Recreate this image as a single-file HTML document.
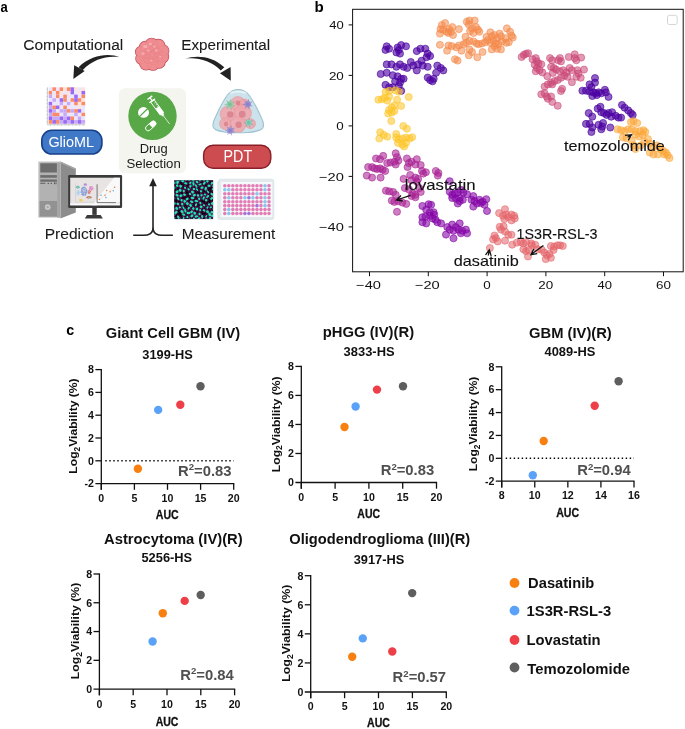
<!DOCTYPE html>
<html><head><meta charset="utf-8"><style>
html,body{margin:0;padding:0;background:#fff;}
svg{display:block;font-family:"Liberation Sans",sans-serif;will-change:transform;}
</style></head><body>
<svg width="685" height="729" viewBox="0 0 685 729">
<rect width="685" height="729" fill="#fff"/>
<text x="0.54" y="11.70" font-size="14.5" font-weight="bold" fill="#000" textLength="7.28" lengthAdjust="spacingAndGlyphs">a</text>
<text x="23.24" y="49.80" font-size="15.3" font-weight="normal" fill="#1a1a1a" textLength="100.09" lengthAdjust="spacingAndGlyphs" stroke="#1a1a1a" stroke-width="0.08">Computational</text>
<text x="181.36" y="49.80" font-size="15.3" font-weight="normal" fill="#1a1a1a" textLength="88.83" lengthAdjust="spacingAndGlyphs" stroke="#1a1a1a" stroke-width="0.08">Experimental</text>
<circle cx="152.30" cy="54.60" r="12.40" fill="#bb4a5a" stroke="#bb4a5a" stroke-width="1.3"/>
<circle cx="162.86" cy="57.05" r="5.63" fill="#bb4a5a" stroke="#bb4a5a" stroke-width="1.3"/>
<circle cx="159.37" cy="62.35" r="5.68" fill="#bb4a5a" stroke="#bb4a5a" stroke-width="1.3"/>
<circle cx="152.99" cy="64.32" r="5.90" fill="#bb4a5a" stroke="#bb4a5a" stroke-width="1.3"/>
<circle cx="146.07" cy="63.55" r="6.26" fill="#bb4a5a" stroke="#bb4a5a" stroke-width="1.3"/>
<circle cx="141.63" cy="58.46" r="5.74" fill="#bb4a5a" stroke="#bb4a5a" stroke-width="1.3"/>
<circle cx="141.42" cy="52.07" r="5.79" fill="#bb4a5a" stroke="#bb4a5a" stroke-width="1.3"/>
<circle cx="145.38" cy="47.02" r="5.64" fill="#bb4a5a" stroke="#bb4a5a" stroke-width="1.3"/>
<circle cx="151.60" cy="44.73" r="6.38" fill="#bb4a5a" stroke="#bb4a5a" stroke-width="1.3"/>
<circle cx="158.48" cy="45.72" r="6.27" fill="#bb4a5a" stroke="#bb4a5a" stroke-width="1.3"/>
<circle cx="163.01" cy="50.73" r="5.72" fill="#bb4a5a" stroke="#bb4a5a" stroke-width="1.3"/>
<circle cx="152.30" cy="54.60" r="12.40" fill="#ef8d90"/>
<circle cx="162.86" cy="57.05" r="5.63" fill="#ef8d90"/>
<circle cx="159.37" cy="62.35" r="5.68" fill="#ef8d90"/>
<circle cx="152.99" cy="64.32" r="5.90" fill="#ef8d90"/>
<circle cx="146.07" cy="63.55" r="6.26" fill="#ef8d90"/>
<circle cx="141.63" cy="58.46" r="5.74" fill="#ef8d90"/>
<circle cx="141.42" cy="52.07" r="5.79" fill="#ef8d90"/>
<circle cx="145.38" cy="47.02" r="5.64" fill="#ef8d90"/>
<circle cx="151.60" cy="44.73" r="6.38" fill="#ef8d90"/>
<circle cx="158.48" cy="45.72" r="6.27" fill="#ef8d90"/>
<circle cx="163.01" cy="50.73" r="5.72" fill="#ef8d90"/>
<circle cx="157.60" cy="57.50" r="4.39" fill="none" stroke="#e57c84" stroke-width="0.5" opacity="0.55"/>
<circle cx="153.34" cy="60.55" r="4.39" fill="none" stroke="#e57c84" stroke-width="0.5" opacity="0.55"/>
<circle cx="148.30" cy="59.12" r="4.39" fill="none" stroke="#e57c84" stroke-width="0.5" opacity="0.55"/>
<circle cx="146.27" cy="54.29" r="4.39" fill="none" stroke="#e57c84" stroke-width="0.5" opacity="0.55"/>
<circle cx="148.78" cy="49.69" r="4.39" fill="none" stroke="#e57c84" stroke-width="0.5" opacity="0.55"/>
<circle cx="153.94" cy="48.79" r="4.39" fill="none" stroke="#e57c84" stroke-width="0.5" opacity="0.55"/>
<circle cx="157.87" cy="52.26" r="4.39" fill="none" stroke="#e57c84" stroke-width="0.5" opacity="0.55"/>
<circle cx="152.30" cy="54.60" r="4.10" fill="none" stroke="#e57c84" stroke-width="0.5" opacity="0.55"/>
<circle cx="162.86" cy="57.05" r="5.18" fill="none" stroke="#e57c84" stroke-width="0.5" opacity="0.55"/>
<circle cx="159.37" cy="62.35" r="5.23" fill="none" stroke="#e57c84" stroke-width="0.5" opacity="0.55"/>
<circle cx="152.99" cy="64.32" r="5.43" fill="none" stroke="#e57c84" stroke-width="0.5" opacity="0.55"/>
<circle cx="146.07" cy="63.55" r="5.76" fill="none" stroke="#e57c84" stroke-width="0.5" opacity="0.55"/>
<circle cx="141.63" cy="58.46" r="5.28" fill="none" stroke="#e57c84" stroke-width="0.5" opacity="0.55"/>
<circle cx="141.42" cy="52.07" r="5.33" fill="none" stroke="#e57c84" stroke-width="0.5" opacity="0.55"/>
<circle cx="145.38" cy="47.02" r="5.19" fill="none" stroke="#e57c84" stroke-width="0.5" opacity="0.55"/>
<circle cx="151.60" cy="44.73" r="5.87" fill="none" stroke="#e57c84" stroke-width="0.5" opacity="0.55"/>
<circle cx="158.48" cy="45.72" r="5.77" fill="none" stroke="#e57c84" stroke-width="0.5" opacity="0.55"/>
<circle cx="163.01" cy="50.73" r="5.26" fill="none" stroke="#e57c84" stroke-width="0.5" opacity="0.55"/>
<ellipse cx="145.3" cy="46.6" rx="2.4" ry="1.7" fill="#f6b2b4" opacity="0.8"/>
<ellipse cx="150.3" cy="44.1" rx="1.8" ry="1.3" fill="#f6b2b4" opacity="0.8"/>
<ellipse cx="142.8" cy="53.6" rx="1.8" ry="1.3" fill="#f6b2b4" opacity="0.8"/>
<ellipse cx="156.3" cy="50.6" rx="1.6" ry="1.1" fill="#f6b2b4" opacity="0.8"/>
<ellipse cx="148.3" cy="50.6" rx="1.6" ry="1.1" fill="#f6b2b4" opacity="0.8"/>
<ellipse cx="160.3" cy="56.6" rx="1.3" ry="0.9" fill="#f6b2b4" opacity="0.8"/>
<ellipse cx="151.3" cy="60.6" rx="1.3" ry="0.9" fill="#f6b2b4" opacity="0.8"/>
<ellipse cx="154.3" cy="46.6" rx="1.4" ry="1.0" fill="#f6b2b4" opacity="0.8"/>
<path d="M119.5,57.3 C110,53.2 92,54 78.6,67.2 L82.6,70.2 C93.5,58.7 108,55.6 119.5,57.3 Z" fill="#222"/>
<path d="M74.2,65.3 L84.7,71 L73.3,78.9 Z" fill="#222"/>
<path d="M185,58.8 C195,55 212,55.3 224.3,67.3 L220.8,70.6 C211,60.5 197,57 185,58.8 Z" fill="#222"/>
<path d="M219.9,73.2 L230.6,67.1 L230.8,80.8 Z" fill="#222"/>
<rect x="48.70" y="87.30" width="3.69" height="3.69" fill="#ebe6fd"/>
<rect x="52.34" y="87.30" width="3.69" height="3.69" fill="#fb8a66"/>
<rect x="55.98" y="87.30" width="3.69" height="3.69" fill="#ebe6fd"/>
<rect x="59.62" y="87.30" width="3.69" height="3.69" fill="#fb8a66"/>
<rect x="63.26" y="87.30" width="3.69" height="3.69" fill="#fde3d9"/>
<rect x="66.90" y="87.30" width="3.69" height="3.69" fill="#fb8a66"/>
<rect x="70.54" y="87.30" width="3.69" height="3.69" fill="#9a6af4"/>
<rect x="74.18" y="87.30" width="3.69" height="3.69" fill="#fde3d9"/>
<rect x="77.82" y="87.30" width="3.69" height="3.69" fill="#ebe6fd"/>
<rect x="81.46" y="87.30" width="3.69" height="3.69" fill="#fde3d9"/>
<rect x="48.70" y="90.94" width="3.69" height="3.69" fill="#fb8a66"/>
<rect x="52.34" y="90.94" width="3.69" height="3.69" fill="#ebe6fd"/>
<rect x="55.98" y="90.94" width="3.69" height="3.69" fill="#fb8a66"/>
<rect x="59.62" y="90.94" width="3.69" height="3.69" fill="#fde3d9"/>
<rect x="63.26" y="90.94" width="3.69" height="3.69" fill="#ebe6fd"/>
<rect x="66.90" y="90.94" width="3.69" height="3.69" fill="#fde3d9"/>
<rect x="70.54" y="90.94" width="3.69" height="3.69" fill="#9a6af4"/>
<rect x="74.18" y="90.94" width="3.69" height="3.69" fill="#ebe6fd"/>
<rect x="77.82" y="90.94" width="3.69" height="3.69" fill="#fde3d9"/>
<rect x="81.46" y="90.94" width="3.69" height="3.69" fill="#9a6af4"/>
<rect x="48.70" y="94.58" width="3.69" height="3.69" fill="#c7aaf5"/>
<rect x="52.34" y="94.58" width="3.69" height="3.69" fill="#ebe6fd"/>
<rect x="55.98" y="94.58" width="3.69" height="3.69" fill="#fb8a66"/>
<rect x="59.62" y="94.58" width="3.69" height="3.69" fill="#ebe6fd"/>
<rect x="63.26" y="94.58" width="3.69" height="3.69" fill="#fb8a66"/>
<rect x="66.90" y="94.58" width="3.69" height="3.69" fill="#ebe6fd"/>
<rect x="70.54" y="94.58" width="3.69" height="3.69" fill="#ebe6fd"/>
<rect x="74.18" y="94.58" width="3.69" height="3.69" fill="#9a6af4"/>
<rect x="77.82" y="94.58" width="3.69" height="3.69" fill="#ebe6fd"/>
<rect x="81.46" y="94.58" width="3.69" height="3.69" fill="#fb8a66"/>
<rect x="48.70" y="98.22" width="3.69" height="3.69" fill="#ebe6fd"/>
<rect x="52.34" y="98.22" width="3.69" height="3.69" fill="#c7aaf5"/>
<rect x="55.98" y="98.22" width="3.69" height="3.69" fill="#ebe6fd"/>
<rect x="59.62" y="98.22" width="3.69" height="3.69" fill="#9a6af4"/>
<rect x="63.26" y="98.22" width="3.69" height="3.69" fill="#fb8a66"/>
<rect x="66.90" y="98.22" width="3.69" height="3.69" fill="#ebe6fd"/>
<rect x="70.54" y="98.22" width="3.69" height="3.69" fill="#fb8a66"/>
<rect x="74.18" y="98.22" width="3.69" height="3.69" fill="#9a6af4"/>
<rect x="77.82" y="98.22" width="3.69" height="3.69" fill="#fb8a66"/>
<rect x="81.46" y="98.22" width="3.69" height="3.69" fill="#fde3d9"/>
<rect x="48.70" y="101.86" width="3.69" height="3.69" fill="#9a6af4"/>
<rect x="52.34" y="101.86" width="3.69" height="3.69" fill="#ebe6fd"/>
<rect x="55.98" y="101.86" width="3.69" height="3.69" fill="#ebe6fd"/>
<rect x="59.62" y="101.86" width="3.69" height="3.69" fill="#c7aaf5"/>
<rect x="63.26" y="101.86" width="3.69" height="3.69" fill="#ebe6fd"/>
<rect x="66.90" y="101.86" width="3.69" height="3.69" fill="#c7aaf5"/>
<rect x="70.54" y="101.86" width="3.69" height="3.69" fill="#ebe6fd"/>
<rect x="74.18" y="101.86" width="3.69" height="3.69" fill="#fb8a66"/>
<rect x="77.82" y="101.86" width="3.69" height="3.69" fill="#fde3d9"/>
<rect x="81.46" y="101.86" width="3.69" height="3.69" fill="#fb8a66"/>
<rect x="48.70" y="105.50" width="3.69" height="3.69" fill="#c7aaf5"/>
<rect x="52.34" y="105.50" width="3.69" height="3.69" fill="#fb8a66"/>
<rect x="55.98" y="105.50" width="3.69" height="3.69" fill="#9a6af4"/>
<rect x="59.62" y="105.50" width="3.69" height="3.69" fill="#ebe6fd"/>
<rect x="63.26" y="105.50" width="3.69" height="3.69" fill="#fb8a66"/>
<rect x="66.90" y="105.50" width="3.69" height="3.69" fill="#ebe6fd"/>
<rect x="70.54" y="105.50" width="3.69" height="3.69" fill="#ebe6fd"/>
<rect x="74.18" y="105.50" width="3.69" height="3.69" fill="#ebe6fd"/>
<rect x="77.82" y="105.50" width="3.69" height="3.69" fill="#fde3d9"/>
<rect x="81.46" y="105.50" width="3.69" height="3.69" fill="#ebe6fd"/>
<rect x="48.70" y="109.14" width="3.69" height="3.69" fill="#9a6af4"/>
<rect x="52.34" y="109.14" width="3.69" height="3.69" fill="#c7aaf5"/>
<rect x="55.98" y="109.14" width="3.69" height="3.69" fill="#ebe6fd"/>
<rect x="59.62" y="109.14" width="3.69" height="3.69" fill="#c7aaf5"/>
<rect x="63.26" y="109.14" width="3.69" height="3.69" fill="#c7aaf5"/>
<rect x="66.90" y="109.14" width="3.69" height="3.69" fill="#fb8a66"/>
<rect x="70.54" y="109.14" width="3.69" height="3.69" fill="#c7aaf5"/>
<rect x="74.18" y="109.14" width="3.69" height="3.69" fill="#fb8a66"/>
<rect x="77.82" y="109.14" width="3.69" height="3.69" fill="#9a6af4"/>
<rect x="81.46" y="109.14" width="3.69" height="3.69" fill="#ebe6fd"/>
<rect x="48.70" y="112.78" width="3.69" height="3.69" fill="#c7aaf5"/>
<rect x="52.34" y="112.78" width="3.69" height="3.69" fill="#fb8a66"/>
<rect x="55.98" y="112.78" width="3.69" height="3.69" fill="#fb8a66"/>
<rect x="59.62" y="112.78" width="3.69" height="3.69" fill="#ebe6fd"/>
<rect x="63.26" y="112.78" width="3.69" height="3.69" fill="#c7aaf5"/>
<rect x="66.90" y="112.78" width="3.69" height="3.69" fill="#ebe6fd"/>
<rect x="70.54" y="112.78" width="3.69" height="3.69" fill="#ebe6fd"/>
<rect x="74.18" y="112.78" width="3.69" height="3.69" fill="#c7aaf5"/>
<rect x="77.82" y="112.78" width="3.69" height="3.69" fill="#ebe6fd"/>
<rect x="81.46" y="112.78" width="3.69" height="3.69" fill="#fb8a66"/>
<rect x="48.70" y="116.42" width="3.69" height="3.69" fill="#9a6af4"/>
<rect x="52.34" y="116.42" width="3.69" height="3.69" fill="#c7aaf5"/>
<rect x="55.98" y="116.42" width="3.69" height="3.69" fill="#c7aaf5"/>
<rect x="59.62" y="116.42" width="3.69" height="3.69" fill="#9a6af4"/>
<rect x="63.26" y="116.42" width="3.69" height="3.69" fill="#c7aaf5"/>
<rect x="66.90" y="116.42" width="3.69" height="3.69" fill="#9a6af4"/>
<rect x="70.54" y="116.42" width="3.69" height="3.69" fill="#fb8a66"/>
<rect x="74.18" y="116.42" width="3.69" height="3.69" fill="#ebe6fd"/>
<rect x="77.82" y="116.42" width="3.69" height="3.69" fill="#c7aaf5"/>
<rect x="81.46" y="116.42" width="3.69" height="3.69" fill="#ebe6fd"/>
<rect x="48.70" y="120.06" width="3.69" height="3.69" fill="#fb8a66"/>
<rect x="52.34" y="120.06" width="3.69" height="3.69" fill="#9a6af4"/>
<rect x="55.98" y="120.06" width="3.69" height="3.69" fill="#fb8a66"/>
<rect x="59.62" y="120.06" width="3.69" height="3.69" fill="#c7aaf5"/>
<rect x="63.26" y="120.06" width="3.69" height="3.69" fill="#9a6af4"/>
<rect x="66.90" y="120.06" width="3.69" height="3.69" fill="#c7aaf5"/>
<rect x="70.54" y="120.06" width="3.69" height="3.69" fill="#9a6af4"/>
<rect x="74.18" y="120.06" width="3.69" height="3.69" fill="#c7aaf5"/>
<rect x="77.82" y="120.06" width="3.69" height="3.69" fill="#9a6af4"/>
<rect x="81.46" y="120.06" width="3.69" height="3.69" fill="#c7aaf5"/>
<line x1="47.4" y1="87.3" x2="47.4" y2="124.69999999999999" stroke="#aaa" stroke-width="0.6"/>
<line x1="47.4" y1="124.69999999999999" x2="85.1" y2="124.69999999999999" stroke="#aaa" stroke-width="0.6"/>
<line x1="46.4" y1="89.12" x2="47.4" y2="89.12" stroke="#999" stroke-width="0.5"/>
<line x1="50.52" y1="124.69999999999999" x2="50.52" y2="125.69999999999999" stroke="#999" stroke-width="0.5"/>
<line x1="46.4" y1="92.76" x2="47.4" y2="92.76" stroke="#999" stroke-width="0.5"/>
<line x1="54.16" y1="124.69999999999999" x2="54.16" y2="125.69999999999999" stroke="#999" stroke-width="0.5"/>
<line x1="46.4" y1="96.40" x2="47.4" y2="96.40" stroke="#999" stroke-width="0.5"/>
<line x1="57.80" y1="124.69999999999999" x2="57.80" y2="125.69999999999999" stroke="#999" stroke-width="0.5"/>
<line x1="46.4" y1="100.04" x2="47.4" y2="100.04" stroke="#999" stroke-width="0.5"/>
<line x1="61.44" y1="124.69999999999999" x2="61.44" y2="125.69999999999999" stroke="#999" stroke-width="0.5"/>
<line x1="46.4" y1="103.68" x2="47.4" y2="103.68" stroke="#999" stroke-width="0.5"/>
<line x1="65.08" y1="124.69999999999999" x2="65.08" y2="125.69999999999999" stroke="#999" stroke-width="0.5"/>
<line x1="46.4" y1="107.32" x2="47.4" y2="107.32" stroke="#999" stroke-width="0.5"/>
<line x1="68.72" y1="124.69999999999999" x2="68.72" y2="125.69999999999999" stroke="#999" stroke-width="0.5"/>
<line x1="46.4" y1="110.96" x2="47.4" y2="110.96" stroke="#999" stroke-width="0.5"/>
<line x1="72.36" y1="124.69999999999999" x2="72.36" y2="125.69999999999999" stroke="#999" stroke-width="0.5"/>
<line x1="46.4" y1="114.60" x2="47.4" y2="114.60" stroke="#999" stroke-width="0.5"/>
<line x1="76.00" y1="124.69999999999999" x2="76.00" y2="125.69999999999999" stroke="#999" stroke-width="0.5"/>
<line x1="46.4" y1="118.24" x2="47.4" y2="118.24" stroke="#999" stroke-width="0.5"/>
<line x1="79.64" y1="124.69999999999999" x2="79.64" y2="125.69999999999999" stroke="#999" stroke-width="0.5"/>
<line x1="46.4" y1="121.88" x2="47.4" y2="121.88" stroke="#999" stroke-width="0.5"/>
<line x1="83.28" y1="124.69999999999999" x2="83.28" y2="125.69999999999999" stroke="#999" stroke-width="0.5"/>
<rect x="41.8" y="130.3" width="60.1" height="23.7" rx="10" fill="#3e78c6" stroke="#173f88" stroke-width="1.6"/>
<text x="48.40" y="146.70" font-size="15.5" font-weight="normal" fill="#fff" textLength="45.66" lengthAdjust="spacingAndGlyphs">GlioML</text>
<rect x="118.9" y="88.2" width="67.2" height="85.1" rx="6.5" fill="#f3f5ee"/>
<circle cx="152.5" cy="115.9" r="24.2" fill="#58a847"/>
<ellipse cx="143.5" cy="112.4" rx="5.5" ry="5.3" fill="#fff"/>
<line x1="139.2" y1="116.9" x2="148" y2="108.2" stroke="#58a847" stroke-width="1.3"/>
<g transform="translate(150.75,125.9) rotate(-41.4)"><rect x="-6.1" y="-2.6" width="12.2" height="5.2" rx="2.6" fill="#58a847" stroke="#fff" stroke-width="0.9"/><path d="M0,-2.6 L3.5,-2.6 A2.6,2.6 0 0 1 3.5,2.6 L0,2.6 Z" fill="#fff"/></g>
<g transform="translate(149.4,97.0) rotate(53.2)" stroke="#fff" fill="none" stroke-linecap="butt"><line x1="0.8" y1="-3" x2="0.8" y2="3" stroke-width="1.4"/><line x1="0.8" y1="0" x2="4.6" y2="0" stroke-width="1.2"/><line x1="4.6" y1="-3.4" x2="4.6" y2="3.4" stroke-width="1.3"/><rect x="5.2" y="-2.1" width="15.6" height="4.2" stroke-width="0.85"/><path d="M13.2,-2.1 L20.8,-2.1 L20.8,2.1 L13.2,2.1 Z" fill="#fff" stroke-width="0.2"/><line x1="7.8" y1="-2.1" x2="7.8" y2="-0.3" stroke-width="0.55"/><line x1="10.2" y1="-2.1" x2="10.2" y2="-0.3" stroke-width="0.55"/><line x1="12.4" y1="-2.1" x2="12.4" y2="-0.3" stroke-width="0.55"/><path d="M20.8,-1.5 L23.4,-0.7 L23.4,0.7 L20.8,1.5 Z" fill="#fff" stroke-width="0.4"/><line x1="23.4" y1="0" x2="33.8" y2="0" stroke-width="0.65"/></g>
<text x="139.66" y="153.10" font-size="12.4" font-weight="normal" fill="#1a1a1a" textLength="28.05" lengthAdjust="spacingAndGlyphs">Drug</text>
<text x="126.52" y="168.00" font-size="12.6" font-weight="normal" fill="#1a1a1a" textLength="54.20" lengthAdjust="spacingAndGlyphs">Selection</text>
<path d="M238.2,89.5 C243.5,89.5 246.5,92 249,95 C252,99 255,104.5 257.5,109.5 L261.5,118 C263.5,122 264,125 263,127.5 C261.5,130.5 252,132.8 238.2,132.8 C224.5,132.8 215,130.5 213.4,127.5 C212.4,125 213,122 215,118 L219,109.5 C221.5,104.5 224.5,99 227.4,95 C230,92 233,89.5 238.2,89.5 Z" fill="#cde3eb" stroke="#9cc2d0" stroke-width="1.1"/>
<clipPath id="dc"><path d="M238.2,89.5 C243.5,89.5 246.5,92 249,95 C252,99 255,104.5 257.5,109.5 L261.5,118 C263.5,122 264,125 263,127.5 C261.5,130.5 252,132.8 238.2,132.8 C224.5,132.8 215,130.5 213.4,127.5 C212.4,125 213,122 215,118 L219,109.5 C221.5,104.5 224.5,99 227.4,95 C230,92 233,89.5 238.2,89.5 Z"/></clipPath><g clip-path="url(#dc)">
<circle cx="237.8" cy="103.5" r="7" fill="#eea4aa" stroke="#e3929a" stroke-width="0.5" fill-opacity="0.85"/>
<circle cx="244.5" cy="104.5" r="5.5" fill="#eea4aa" stroke="#e3929a" stroke-width="0.5" fill-opacity="0.85"/>
<circle cx="228.1" cy="114" r="8" fill="#eea4aa" stroke="#e3929a" stroke-width="0.5" fill-opacity="0.85"/>
<circle cx="243" cy="113.1" r="8.5" fill="#eea4aa" stroke="#e3929a" stroke-width="0.5" fill-opacity="0.85"/>
<circle cx="225.5" cy="123.7" r="6" fill="#eea4aa" stroke="#e3929a" stroke-width="0.5" fill-opacity="0.85"/>
<circle cx="250.5" cy="123.7" r="5" fill="#eea4aa" stroke="#e3929a" stroke-width="0.5" fill-opacity="0.85"/>
<circle cx="237.8" cy="124.5" r="8" fill="#eea4aa" stroke="#e3929a" stroke-width="0.5" fill-opacity="0.85"/>
<circle cx="230.3" cy="114.5" r="3.3" fill="#d9828c" opacity="0.9"/>
<circle cx="242.2" cy="114.2" r="3.4" fill="#d9828c" opacity="0.9"/>
<circle cx="238.6" cy="124.8" r="3.2" fill="#d9828c" opacity="0.9"/>
<circle cx="238" cy="103" r="2.4" fill="#d9828c" opacity="0.9"/>
<circle cx="226" cy="124" r="2.2" fill="#d9828c" opacity="0.9"/>
</g>
<path d="M231,93 C235,91.3 241.5,91.3 245.5,93" fill="none" stroke="#eaf4f8" stroke-width="1.5" stroke-linecap="round"/>
<line x1="229.9" y1="104.4" x2="234.7" y2="106.4" stroke="#5fa080" stroke-width="0.55"/><line x1="229.9" y1="104.4" x2="231.3" y2="109.4" stroke="#5fa080" stroke-width="0.55"/><line x1="229.9" y1="104.4" x2="226.9" y2="108.6" stroke="#5fa080" stroke-width="0.55"/><line x1="229.9" y1="104.4" x2="224.7" y2="104.7" stroke="#5fa080" stroke-width="0.55"/><line x1="229.9" y1="104.4" x2="226.5" y2="100.5" stroke="#5fa080" stroke-width="0.55"/><line x1="229.9" y1="104.4" x2="230.8" y2="99.3" stroke="#5fa080" stroke-width="0.55"/><line x1="229.9" y1="104.4" x2="234.5" y2="101.9" stroke="#5fa080" stroke-width="0.55"/><circle cx="229.9" cy="104.4" r="3.4" fill="#8fd0a8"/><circle cx="229.9" cy="104.4" r="1.9" fill="#5fa080" opacity="0.35"/>
<line x1="247.8" y1="104.2" x2="252.4" y2="106.1" stroke="#7468b4" stroke-width="0.55"/><line x1="247.8" y1="104.2" x2="249.1" y2="109.0" stroke="#7468b4" stroke-width="0.55"/><line x1="247.8" y1="104.2" x2="244.9" y2="108.3" stroke="#7468b4" stroke-width="0.55"/><line x1="247.8" y1="104.2" x2="242.8" y2="104.4" stroke="#7468b4" stroke-width="0.55"/><line x1="247.8" y1="104.2" x2="244.5" y2="100.4" stroke="#7468b4" stroke-width="0.55"/><line x1="247.8" y1="104.2" x2="248.7" y2="99.3" stroke="#7468b4" stroke-width="0.55"/><line x1="247.8" y1="104.2" x2="252.2" y2="101.8" stroke="#7468b4" stroke-width="0.55"/><circle cx="247.8" cy="104.2" r="3.2" fill="#9a90d2"/><circle cx="247.8" cy="104.2" r="1.8" fill="#7468b4" opacity="0.35"/>
<line x1="248.7" y1="122.8" x2="253.1" y2="124.7" stroke="#56a090" stroke-width="0.55"/><line x1="248.7" y1="122.8" x2="250.0" y2="127.4" stroke="#56a090" stroke-width="0.55"/><line x1="248.7" y1="122.8" x2="245.9" y2="126.7" stroke="#56a090" stroke-width="0.55"/><line x1="248.7" y1="122.8" x2="243.9" y2="123.0" stroke="#56a090" stroke-width="0.55"/><line x1="248.7" y1="122.8" x2="245.5" y2="119.2" stroke="#56a090" stroke-width="0.55"/><line x1="248.7" y1="122.8" x2="249.5" y2="118.1" stroke="#56a090" stroke-width="0.55"/><line x1="248.7" y1="122.8" x2="252.9" y2="120.5" stroke="#56a090" stroke-width="0.55"/><circle cx="248.7" cy="122.8" r="3.0" fill="#84d0bc"/><circle cx="248.7" cy="122.8" r="1.7" fill="#56a090" opacity="0.35"/>
<line x1="230.3" y1="130.5" x2="234.9" y2="132.4" stroke="#7468b4" stroke-width="0.55"/><line x1="230.3" y1="130.5" x2="231.6" y2="135.3" stroke="#7468b4" stroke-width="0.55"/><line x1="230.3" y1="130.5" x2="227.4" y2="134.6" stroke="#7468b4" stroke-width="0.55"/><line x1="230.3" y1="130.5" x2="225.3" y2="130.7" stroke="#7468b4" stroke-width="0.55"/><line x1="230.3" y1="130.5" x2="227.0" y2="126.7" stroke="#7468b4" stroke-width="0.55"/><line x1="230.3" y1="130.5" x2="231.2" y2="125.6" stroke="#7468b4" stroke-width="0.55"/><line x1="230.3" y1="130.5" x2="234.7" y2="128.1" stroke="#7468b4" stroke-width="0.55"/><circle cx="230.3" cy="130.5" r="3.2" fill="#9a90d2"/><circle cx="230.3" cy="130.5" r="1.8" fill="#7468b4" opacity="0.35"/>
<rect x="203.6" y="145.3" width="67.2" height="22.9" rx="9.5" fill="#cc4c50" stroke="#8a1f28" stroke-width="1.4"/>
<text x="223.56" y="161.70" font-size="15.6" font-weight="normal" fill="#fff" textLength="28.56" lengthAdjust="spacingAndGlyphs">PDT</text>
<path d="M60.4,161.5 L75.8,168.5 L75.8,212.4 L60.4,218.5 Z" fill="#8c8c8c"/>
<path d="M60.4,161.5 L75.8,168.5 L75.8,170 L60.4,163 Z" fill="#a8a8a8"/>
<rect x="38.3" y="161.5" width="22.1" height="56.1" fill="#c4c4c4"/>
<rect x="39.6" y="162.5" width="17.6" height="54" fill="#b2b2b2"/>
<rect x="40.3" y="163.3" width="16.6" height="9.2" fill="#6c6c6c"/>
<rect x="40.3" y="175.1" width="16.6" height="2.6" fill="#6c6c6c"/>
<rect x="40.3" y="179.5" width="16.6" height="2.2" fill="#6c6c6c"/>
<rect x="40.3" y="182.8" width="5" height="0.9" fill="#555"/>
<circle cx="48.2" cy="183.3" r="0.6" fill="#333"/><circle cx="51.2" cy="183.3" r="0.6" fill="#333"/><rect x="54" y="182.4" width="0.8" height="1.8" fill="#444"/><rect x="55.6" y="182.4" width="0.8" height="1.8" fill="#444"/>
<rect x="39.6" y="201" width="17.6" height="15.6" fill="#929292"/>
<rect x="57.2" y="162.5" width="3.2" height="55" fill="#a4a4a4"/>
<circle cx="47.7" cy="207.1" r="2.9" fill="#c8c8c8"/><circle cx="47.7" cy="207.1" r="1.2" fill="#a8a8a8"/>
<rect x="68.2" y="175.1" width="53.9" height="32.8" rx="1.2" fill="#3a3a3a"/>
<rect x="70.2" y="177.7" width="49.7" height="27.6" fill="#e8e4e4"/>
<path d="M114,177.7 L119.9,177.7 L119.9,202 L96,205.3 L92,205.3 Z" fill="#f9f9f9"/>
<rect x="70.2" y="203.4" width="49.7" height="1.9" fill="#f9f9f9"/>
<rect x="92.3" y="207.9" width="4.4" height="7" fill="#3a3a3a"/>
<path d="M87,214.9 L100.6,214.9 L102.8,218.4 L84.8,218.4 Z" fill="#3a3a3a"/>
<path d="M75.5,183.4 L75.5,202.2 L94.9,202.2" fill="none" stroke="#bbb" stroke-width="0.4"/>
<ellipse cx="77.8" cy="187.3" rx="1.9" ry="1.3" fill="#4fb8a8" opacity="0.45"/>
<circle cx="76.63" cy="186.52" r="0.45" fill="#4fb8a8"/>
<circle cx="78.32" cy="186.09" r="0.45" fill="#4fb8a8"/>
<circle cx="77.68" cy="186.05" r="0.45" fill="#4fb8a8"/>
<circle cx="79.08" cy="187.46" r="0.45" fill="#4fb8a8"/>
<circle cx="79.23" cy="186.93" r="0.45" fill="#4fb8a8"/>
<circle cx="78.32" cy="187.04" r="0.45" fill="#4fb8a8"/>
<circle cx="76.87" cy="187.42" r="0.45" fill="#4fb8a8"/>
<circle cx="76.41" cy="187.03" r="0.45" fill="#4fb8a8"/>
<circle cx="78.68" cy="187.35" r="0.45" fill="#4fb8a8"/>
<circle cx="77.47" cy="188.52" r="0.45" fill="#4fb8a8"/>
<circle cx="77.87" cy="186.78" r="0.45" fill="#4fb8a8"/>
<circle cx="78.01" cy="186.84" r="0.45" fill="#4fb8a8"/>
<ellipse cx="78.3" cy="192.6" rx="1.9" ry="2.6" fill="#a8cef0" opacity="0.45"/>
<circle cx="77.80" cy="191.98" r="0.45" fill="#a8cef0"/>
<circle cx="80.07" cy="192.63" r="0.45" fill="#a8cef0"/>
<circle cx="78.52" cy="193.77" r="0.45" fill="#a8cef0"/>
<circle cx="80.06" cy="192.33" r="0.45" fill="#a8cef0"/>
<circle cx="77.84" cy="195.07" r="0.45" fill="#a8cef0"/>
<circle cx="76.78" cy="192.08" r="0.45" fill="#a8cef0"/>
<circle cx="78.82" cy="195.02" r="0.45" fill="#a8cef0"/>
<circle cx="77.62" cy="190.22" r="0.45" fill="#a8cef0"/>
<circle cx="79.12" cy="191.72" r="0.45" fill="#a8cef0"/>
<circle cx="77.80" cy="193.41" r="0.45" fill="#a8cef0"/>
<circle cx="78.60" cy="193.13" r="0.45" fill="#a8cef0"/>
<circle cx="77.83" cy="194.51" r="0.45" fill="#a8cef0"/>
<circle cx="79.86" cy="192.65" r="0.45" fill="#a8cef0"/>
<circle cx="77.75" cy="193.83" r="0.45" fill="#a8cef0"/>
<circle cx="78.85" cy="190.96" r="0.45" fill="#a8cef0"/>
<circle cx="77.77" cy="194.25" r="0.45" fill="#a8cef0"/>
<circle cx="78.17" cy="192.00" r="0.45" fill="#a8cef0"/>
<circle cx="78.58" cy="192.54" r="0.45" fill="#a8cef0"/>
<circle cx="78.30" cy="190.21" r="0.45" fill="#a8cef0"/>
<circle cx="79.98" cy="192.86" r="0.45" fill="#a8cef0"/>
<circle cx="77.34" cy="194.07" r="0.45" fill="#a8cef0"/>
<circle cx="78.71" cy="192.63" r="0.45" fill="#a8cef0"/>
<ellipse cx="84" cy="191.3" rx="3.2" ry="4.5" fill="#7d95d6" opacity="0.45"/>
<circle cx="85.32" cy="195.29" r="0.45" fill="#7d95d6"/>
<circle cx="84.92" cy="194.99" r="0.45" fill="#7d95d6"/>
<circle cx="86.81" cy="189.43" r="0.45" fill="#7d95d6"/>
<circle cx="82.93" cy="193.52" r="0.45" fill="#7d95d6"/>
<circle cx="81.22" cy="190.69" r="0.45" fill="#7d95d6"/>
<circle cx="86.15" cy="193.74" r="0.45" fill="#7d95d6"/>
<circle cx="84.87" cy="187.31" r="0.45" fill="#7d95d6"/>
<circle cx="87.03" cy="192.30" r="0.45" fill="#7d95d6"/>
<circle cx="85.57" cy="192.72" r="0.45" fill="#7d95d6"/>
<circle cx="81.65" cy="188.53" r="0.45" fill="#7d95d6"/>
<circle cx="82.35" cy="194.95" r="0.45" fill="#7d95d6"/>
<circle cx="82.28" cy="190.60" r="0.45" fill="#7d95d6"/>
<circle cx="83.45" cy="193.03" r="0.45" fill="#7d95d6"/>
<circle cx="85.09" cy="192.12" r="0.45" fill="#7d95d6"/>
<circle cx="82.81" cy="187.13" r="0.45" fill="#7d95d6"/>
<circle cx="84.37" cy="192.14" r="0.45" fill="#7d95d6"/>
<circle cx="86.33" cy="191.03" r="0.45" fill="#7d95d6"/>
<circle cx="82.71" cy="192.52" r="0.45" fill="#7d95d6"/>
<circle cx="81.58" cy="189.02" r="0.45" fill="#7d95d6"/>
<circle cx="82.00" cy="192.10" r="0.45" fill="#7d95d6"/>
<circle cx="86.88" cy="192.78" r="0.45" fill="#7d95d6"/>
<circle cx="86.20" cy="191.95" r="0.45" fill="#7d95d6"/>
<circle cx="84.61" cy="189.92" r="0.45" fill="#7d95d6"/>
<circle cx="83.64" cy="186.94" r="0.45" fill="#7d95d6"/>
<circle cx="82.06" cy="188.38" r="0.45" fill="#7d95d6"/>
<circle cx="85.65" cy="193.14" r="0.45" fill="#7d95d6"/>
<circle cx="85.74" cy="194.63" r="0.45" fill="#7d95d6"/>
<circle cx="83.40" cy="194.21" r="0.45" fill="#7d95d6"/>
<circle cx="86.95" cy="191.28" r="0.45" fill="#7d95d6"/>
<circle cx="86.13" cy="190.84" r="0.45" fill="#7d95d6"/>
<circle cx="81.27" cy="191.59" r="0.45" fill="#7d95d6"/>
<circle cx="82.29" cy="191.62" r="0.45" fill="#7d95d6"/>
<circle cx="82.99" cy="192.28" r="0.45" fill="#7d95d6"/>
<circle cx="81.72" cy="194.42" r="0.45" fill="#7d95d6"/>
<circle cx="86.45" cy="190.41" r="0.45" fill="#7d95d6"/>
<circle cx="82.14" cy="191.31" r="0.45" fill="#7d95d6"/>
<circle cx="85.41" cy="192.55" r="0.45" fill="#7d95d6"/>
<circle cx="84.60" cy="187.19" r="0.45" fill="#7d95d6"/>
<circle cx="82.17" cy="194.35" r="0.45" fill="#7d95d6"/>
<circle cx="84.42" cy="187.60" r="0.45" fill="#7d95d6"/>
<circle cx="82.57" cy="187.94" r="0.45" fill="#7d95d6"/>
<circle cx="82.24" cy="194.16" r="0.45" fill="#7d95d6"/>
<circle cx="83.57" cy="194.38" r="0.45" fill="#7d95d6"/>
<circle cx="84.33" cy="187.59" r="0.45" fill="#7d95d6"/>
<circle cx="83.15" cy="195.51" r="0.45" fill="#7d95d6"/>
<circle cx="82.56" cy="188.53" r="0.45" fill="#7d95d6"/>
<circle cx="86.36" cy="191.54" r="0.45" fill="#7d95d6"/>
<circle cx="83.99" cy="194.99" r="0.45" fill="#7d95d6"/>
<circle cx="81.19" cy="192.24" r="0.45" fill="#7d95d6"/>
<circle cx="82.28" cy="188.09" r="0.45" fill="#7d95d6"/>
<circle cx="82.52" cy="194.25" r="0.45" fill="#7d95d6"/>
<circle cx="83.78" cy="187.22" r="0.45" fill="#7d95d6"/>
<circle cx="82.27" cy="194.64" r="0.45" fill="#7d95d6"/>
<circle cx="85.82" cy="188.58" r="0.45" fill="#7d95d6"/>
<circle cx="87.09" cy="190.64" r="0.45" fill="#7d95d6"/>
<circle cx="81.69" cy="190.93" r="0.45" fill="#7d95d6"/>
<circle cx="85.47" cy="194.86" r="0.45" fill="#7d95d6"/>
<circle cx="86.04" cy="190.11" r="0.45" fill="#7d95d6"/>
<circle cx="83.02" cy="187.74" r="0.45" fill="#7d95d6"/>
<circle cx="83.84" cy="189.45" r="0.45" fill="#7d95d6"/>
<ellipse cx="91.4" cy="188.2" rx="2.2" ry="2.2" fill="#e07fc8" opacity="0.45"/>
<circle cx="91.72" cy="186.55" r="0.45" fill="#e07fc8"/>
<circle cx="90.68" cy="186.97" r="0.45" fill="#e07fc8"/>
<circle cx="90.02" cy="186.84" r="0.45" fill="#e07fc8"/>
<circle cx="90.18" cy="186.79" r="0.45" fill="#e07fc8"/>
<circle cx="92.27" cy="188.35" r="0.45" fill="#e07fc8"/>
<circle cx="89.75" cy="188.84" r="0.45" fill="#e07fc8"/>
<circle cx="91.75" cy="189.99" r="0.45" fill="#e07fc8"/>
<circle cx="91.09" cy="187.87" r="0.45" fill="#e07fc8"/>
<circle cx="90.37" cy="188.39" r="0.45" fill="#e07fc8"/>
<circle cx="92.16" cy="188.47" r="0.45" fill="#e07fc8"/>
<circle cx="91.02" cy="189.05" r="0.45" fill="#e07fc8"/>
<circle cx="91.54" cy="188.59" r="0.45" fill="#e07fc8"/>
<circle cx="90.08" cy="188.49" r="0.45" fill="#e07fc8"/>
<circle cx="90.11" cy="187.11" r="0.45" fill="#e07fc8"/>
<circle cx="91.56" cy="190.28" r="0.45" fill="#e07fc8"/>
<circle cx="92.80" cy="188.21" r="0.45" fill="#e07fc8"/>
<circle cx="91.15" cy="189.59" r="0.45" fill="#e07fc8"/>
<circle cx="92.90" cy="189.53" r="0.45" fill="#e07fc8"/>
<circle cx="91.11" cy="188.50" r="0.45" fill="#e07fc8"/>
<circle cx="90.89" cy="187.76" r="0.45" fill="#e07fc8"/>
<circle cx="90.17" cy="187.84" r="0.45" fill="#e07fc8"/>
<circle cx="89.52" cy="187.15" r="0.45" fill="#e07fc8"/>
<ellipse cx="85.3" cy="184.7" rx="1.6" ry="1.2" fill="#a880d0" opacity="0.45"/>
<circle cx="85.73" cy="183.99" r="0.45" fill="#a880d0"/>
<circle cx="85.79" cy="183.81" r="0.45" fill="#a880d0"/>
<circle cx="84.89" cy="185.03" r="0.45" fill="#a880d0"/>
<circle cx="84.31" cy="184.19" r="0.45" fill="#a880d0"/>
<circle cx="86.82" cy="184.39" r="0.45" fill="#a880d0"/>
<circle cx="84.56" cy="184.25" r="0.45" fill="#a880d0"/>
<circle cx="85.34" cy="184.68" r="0.45" fill="#a880d0"/>
<circle cx="86.24" cy="185.27" r="0.45" fill="#a880d0"/>
<circle cx="84.85" cy="184.40" r="0.45" fill="#a880d0"/>
<circle cx="84.26" cy="183.88" r="0.45" fill="#a880d0"/>
<ellipse cx="89.2" cy="191.7" rx="1.5" ry="2.2" fill="#e06a6a" opacity="0.45"/>
<circle cx="88.50" cy="192.72" r="0.45" fill="#e06a6a"/>
<circle cx="89.32" cy="192.87" r="0.45" fill="#e06a6a"/>
<circle cx="90.11" cy="191.47" r="0.45" fill="#e06a6a"/>
<circle cx="90.59" cy="191.19" r="0.45" fill="#e06a6a"/>
<circle cx="88.57" cy="191.07" r="0.45" fill="#e06a6a"/>
<circle cx="90.25" cy="191.51" r="0.45" fill="#e06a6a"/>
<circle cx="88.47" cy="192.33" r="0.45" fill="#e06a6a"/>
<circle cx="90.25" cy="191.55" r="0.45" fill="#e06a6a"/>
<circle cx="88.97" cy="193.18" r="0.45" fill="#e06a6a"/>
<circle cx="90.05" cy="192.90" r="0.45" fill="#e06a6a"/>
<circle cx="88.44" cy="192.11" r="0.45" fill="#e06a6a"/>
<circle cx="89.47" cy="189.74" r="0.45" fill="#e06a6a"/>
<circle cx="90.29" cy="191.83" r="0.45" fill="#e06a6a"/>
<circle cx="88.98" cy="193.80" r="0.45" fill="#e06a6a"/>
<circle cx="89.35" cy="190.63" r="0.45" fill="#e06a6a"/>
<circle cx="89.13" cy="192.56" r="0.45" fill="#e06a6a"/>
<ellipse cx="89.2" cy="197.4" rx="2.6" ry="1.3" fill="#b07860" opacity="0.45"/>
<circle cx="90.60" cy="197.35" r="0.45" fill="#b07860"/>
<circle cx="87.81" cy="196.84" r="0.45" fill="#b07860"/>
<circle cx="87.96" cy="196.60" r="0.45" fill="#b07860"/>
<circle cx="89.16" cy="196.95" r="0.45" fill="#b07860"/>
<circle cx="89.29" cy="196.69" r="0.45" fill="#b07860"/>
<circle cx="87.73" cy="197.24" r="0.45" fill="#b07860"/>
<circle cx="88.65" cy="198.31" r="0.45" fill="#b07860"/>
<circle cx="87.68" cy="197.57" r="0.45" fill="#b07860"/>
<circle cx="89.14" cy="196.40" r="0.45" fill="#b07860"/>
<circle cx="90.47" cy="197.55" r="0.45" fill="#b07860"/>
<circle cx="86.81" cy="197.74" r="0.45" fill="#b07860"/>
<circle cx="90.66" cy="196.78" r="0.45" fill="#b07860"/>
<circle cx="91.48" cy="197.50" r="0.45" fill="#b07860"/>
<circle cx="87.43" cy="197.83" r="0.45" fill="#b07860"/>
<circle cx="88.66" cy="196.40" r="0.45" fill="#b07860"/>
<circle cx="86.73" cy="197.54" r="0.45" fill="#b07860"/>
<ellipse cx="80.9" cy="200" rx="2" ry="1.2" fill="#f2d040" opacity="0.45"/>
<circle cx="79.96" cy="200.50" r="0.45" fill="#f2d040"/>
<circle cx="81.43" cy="199.57" r="0.45" fill="#f2d040"/>
<circle cx="80.38" cy="201.05" r="0.45" fill="#f2d040"/>
<circle cx="82.57" cy="200.44" r="0.45" fill="#f2d040"/>
<circle cx="80.45" cy="199.26" r="0.45" fill="#f2d040"/>
<circle cx="80.50" cy="201.03" r="0.45" fill="#f2d040"/>
<circle cx="81.54" cy="199.76" r="0.45" fill="#f2d040"/>
<circle cx="79.43" cy="200.12" r="0.45" fill="#f2d040"/>
<circle cx="79.75" cy="200.01" r="0.45" fill="#f2d040"/>
<circle cx="81.77" cy="200.75" r="0.45" fill="#f2d040"/>
<circle cx="81.10" cy="199.71" r="0.45" fill="#f2d040"/>
<circle cx="81.13" cy="201.08" r="0.45" fill="#f2d040"/>
<path d="M97.1,184.3 L97.1,202.6 L115.9,202.6" fill="none" stroke="#444" stroke-width="0.7"/>
<line x1="99" y1="199.8" x2="115.5" y2="186.5" stroke="#8ab" stroke-width="0.4" stroke-dasharray="0.8 0.8"/>
<circle cx="99.3" cy="199.6" r="0.75" fill="#f08030"/>
<circle cx="105" cy="195.2" r="0.75" fill="#f08030"/>
<circle cx="106.7" cy="190.4" r="0.75" fill="#f08030"/>
<circle cx="110.2" cy="191.7" r="0.75" fill="#f08030"/>
<circle cx="114.6" cy="187.3" r="0.75" fill="#f08030"/>
<circle cx="101" cy="195.2" r="0.75" fill="#60a8d8"/>
<circle cx="105.9" cy="197.4" r="0.75" fill="#60a8d8"/>
<circle cx="113.3" cy="190.8" r="0.75" fill="#60a8d8"/>
<text x="44.73" y="238.70" font-size="15.3" font-weight="normal" fill="#1a1a1a" textLength="69.28" lengthAdjust="spacingAndGlyphs" stroke="#1a1a1a" stroke-width="0.08">Prediction</text>
<text x="181.75" y="238.70" font-size="15.3" font-weight="normal" fill="#1a1a1a" textLength="93.54" lengthAdjust="spacingAndGlyphs" stroke="#1a1a1a" stroke-width="0.08">Measurement</text>
<path d="M133.2,235.3 L144,235.3 C149,235.3 152,233 153,229.5 C154,233 157,235.3 162,235.3 L172.9,235.3" fill="none" stroke="#222" stroke-width="1.6"/>
<line x1="153" y1="230" x2="153" y2="185" stroke="#222" stroke-width="1.6"/>
<path d="M149.2,186.2 L153,178 L156.8,186.2 Z" fill="#222"/>
<rect x="174.2" y="180.2" width="38.9" height="38.9" fill="#060006"/>
<clipPath id="fc"><rect x="174.2" y="180.2" width="38.9" height="38.9"/></clipPath><g clip-path="url(#fc)">
<circle cx="179.9" cy="207.4" r="2.1" fill="none" stroke="#9a1aa0" stroke-width="0.6" stroke-dasharray="1.6 0.9"/>
<circle cx="199.2" cy="198.8" r="2.1" fill="none" stroke="#9a1aa0" stroke-width="0.6" stroke-dasharray="1.6 0.9"/>
<circle cx="182.0" cy="211.6" r="2.1" fill="none" stroke="#9a1aa0" stroke-width="0.6" stroke-dasharray="1.6 0.9"/>
<circle cx="206.2" cy="200.2" r="2.1" fill="none" stroke="#9a1aa0" stroke-width="0.6" stroke-dasharray="1.6 0.9"/>
<circle cx="193.9" cy="188.9" r="2.1" fill="none" stroke="#9a1aa0" stroke-width="0.6" stroke-dasharray="1.6 0.9"/>
<circle cx="173.3" cy="194.4" r="2.1" fill="none" stroke="#9a1aa0" stroke-width="0.6" stroke-dasharray="1.6 0.9"/>
<circle cx="197.1" cy="182.0" r="2.1" fill="none" stroke="#9a1aa0" stroke-width="0.6" stroke-dasharray="1.6 0.9"/>
<circle cx="205.7" cy="188.7" r="2.1" fill="none" stroke="#9a1aa0" stroke-width="0.6" stroke-dasharray="1.6 0.9"/>
<circle cx="182.7" cy="180.9" r="2.1" fill="none" stroke="#9a1aa0" stroke-width="0.6" stroke-dasharray="1.6 0.9"/>
<circle cx="214.0" cy="209.4" r="2.1" fill="none" stroke="#9a1aa0" stroke-width="0.6" stroke-dasharray="1.6 0.9"/>
<circle cx="209.0" cy="204.4" r="2.1" fill="none" stroke="#9a1aa0" stroke-width="0.6" stroke-dasharray="1.6 0.9"/>
<circle cx="193.5" cy="183.9" r="2.1" fill="none" stroke="#9a1aa0" stroke-width="0.6" stroke-dasharray="1.6 0.9"/>
<circle cx="212.1" cy="194.3" r="2.1" fill="none" stroke="#9a1aa0" stroke-width="0.6" stroke-dasharray="1.6 0.9"/>
<circle cx="178.3" cy="217.2" r="2.1" fill="none" stroke="#9a1aa0" stroke-width="0.6" stroke-dasharray="1.6 0.9"/>
<circle cx="191.7" cy="201.8" r="2.1" fill="none" stroke="#9a1aa0" stroke-width="0.6" stroke-dasharray="1.6 0.9"/>
<circle cx="187.2" cy="199.0" r="2.1" fill="none" stroke="#9a1aa0" stroke-width="0.6" stroke-dasharray="1.6 0.9"/>
<circle cx="212.8" cy="215.8" r="2.1" fill="none" stroke="#9a1aa0" stroke-width="0.6" stroke-dasharray="1.6 0.9"/>
<circle cx="204.1" cy="210.4" r="2.1" fill="none" stroke="#9a1aa0" stroke-width="0.6" stroke-dasharray="1.6 0.9"/>
<circle cx="197.0" cy="209.0" r="2.1" fill="none" stroke="#9a1aa0" stroke-width="0.6" stroke-dasharray="1.6 0.9"/>
<circle cx="178.2" cy="198.7" r="2.1" fill="none" stroke="#9a1aa0" stroke-width="0.6" stroke-dasharray="1.6 0.9"/>
<circle cx="190.0" cy="194.1" r="2.1" fill="none" stroke="#9a1aa0" stroke-width="0.6" stroke-dasharray="1.6 0.9"/>
<circle cx="174.3" cy="183.0" r="2.1" fill="none" stroke="#9a1aa0" stroke-width="0.6" stroke-dasharray="1.6 0.9"/>
<circle cx="202.6" cy="219.8" r="2.1" fill="none" stroke="#9a1aa0" stroke-width="0.6" stroke-dasharray="1.6 0.9"/>
<circle cx="182.3" cy="204.1" r="2.1" fill="none" stroke="#9a1aa0" stroke-width="0.6" stroke-dasharray="1.6 0.9"/>
<circle cx="196.0" cy="204.7" r="2.1" fill="none" stroke="#9a1aa0" stroke-width="0.6" stroke-dasharray="1.6 0.9"/>
<circle cx="180.6" cy="186.2" r="2.1" fill="none" stroke="#9a1aa0" stroke-width="0.6" stroke-dasharray="1.6 0.9"/>
<circle cx="187.4" cy="217.1" r="2.1" fill="none" stroke="#9a1aa0" stroke-width="0.6" stroke-dasharray="1.6 0.9"/>
<circle cx="187.4" cy="203.6" r="2.1" fill="none" stroke="#9a1aa0" stroke-width="0.6" stroke-dasharray="1.6 0.9"/>
<circle cx="185.7" cy="183.4" r="2.1" fill="none" stroke="#9a1aa0" stroke-width="0.6" stroke-dasharray="1.6 0.9"/>
<circle cx="175.9" cy="212.5" r="2.1" fill="none" stroke="#9a1aa0" stroke-width="0.6" stroke-dasharray="1.6 0.9"/>
<circle cx="205.0" cy="194.5" r="2.1" fill="none" stroke="#9a1aa0" stroke-width="0.6" stroke-dasharray="1.6 0.9"/>
<circle cx="201.1" cy="206.8" r="2.1" fill="none" stroke="#9a1aa0" stroke-width="0.6" stroke-dasharray="1.6 0.9"/>
<circle cx="210.0" cy="218.4" r="2.1" fill="none" stroke="#9a1aa0" stroke-width="0.6" stroke-dasharray="1.6 0.9"/>
<circle cx="189.8" cy="219.7" r="2.1" fill="none" stroke="#9a1aa0" stroke-width="0.6" stroke-dasharray="1.6 0.9"/>
<circle cx="212.5" cy="203.4" r="2.1" fill="none" stroke="#9a1aa0" stroke-width="0.6" stroke-dasharray="1.6 0.9"/>
<circle cx="188.6" cy="189.3" r="2.1" fill="none" stroke="#9a1aa0" stroke-width="0.6" stroke-dasharray="1.6 0.9"/>
<circle cx="209.0" cy="185.8" r="2.1" fill="none" stroke="#9a1aa0" stroke-width="0.6" stroke-dasharray="1.6 0.9"/>
<circle cx="207.4" cy="181.3" r="2.1" fill="none" stroke="#9a1aa0" stroke-width="0.6" stroke-dasharray="1.6 0.9"/>
<circle cx="183.8" cy="191.1" r="2.1" fill="none" stroke="#9a1aa0" stroke-width="0.6" stroke-dasharray="1.6 0.9"/>
<circle cx="190.4" cy="186.2" r="2.1" fill="none" stroke="#9a1aa0" stroke-width="0.6" stroke-dasharray="1.6 0.9"/>
<circle cx="183.5" cy="218.4" r="2.1" fill="none" stroke="#9a1aa0" stroke-width="0.6" stroke-dasharray="1.6 0.9"/>
<circle cx="174.4" cy="187.9" r="2.1" fill="none" stroke="#9a1aa0" stroke-width="0.6" stroke-dasharray="1.6 0.9"/>
<circle cx="207.5" cy="211.7" r="2.1" fill="none" stroke="#9a1aa0" stroke-width="0.6" stroke-dasharray="1.6 0.9"/>
<circle cx="207.9" cy="191.8" r="2.1" fill="none" stroke="#9a1aa0" stroke-width="0.6" stroke-dasharray="1.6 0.9"/>
<circle cx="174.2" cy="203.5" r="2.1" fill="none" stroke="#9a1aa0" stroke-width="0.6" stroke-dasharray="1.6 0.9"/>
<circle cx="199.5" cy="214.0" r="2.1" fill="none" stroke="#9a1aa0" stroke-width="0.6" stroke-dasharray="1.6 0.9"/>
<circle cx="197.1" cy="189.7" r="2.1" fill="none" stroke="#9a1aa0" stroke-width="0.6" stroke-dasharray="1.6 0.9"/>
<circle cx="200.0" cy="184.4" r="2.1" fill="none" stroke="#9a1aa0" stroke-width="0.6" stroke-dasharray="1.6 0.9"/>
<circle cx="188.7" cy="208.2" r="2.1" fill="none" stroke="#9a1aa0" stroke-width="0.6" stroke-dasharray="1.6 0.9"/>
<circle cx="173.5" cy="198.2" r="2.1" fill="none" stroke="#9a1aa0" stroke-width="0.6" stroke-dasharray="1.6 0.9"/>
<circle cx="183.5" cy="207.7" r="2.1" fill="none" stroke="#9a1aa0" stroke-width="0.6" stroke-dasharray="1.6 0.9"/>
<circle cx="212.0" cy="183.2" r="2.1" fill="none" stroke="#9a1aa0" stroke-width="0.6" stroke-dasharray="1.6 0.9"/>
<circle cx="177.6" cy="182.3" r="2.1" fill="none" stroke="#9a1aa0" stroke-width="0.6" stroke-dasharray="1.6 0.9"/>
<circle cx="194.4" cy="195.1" r="2.1" fill="none" stroke="#9a1aa0" stroke-width="0.6" stroke-dasharray="1.6 0.9"/>
<circle cx="199.0" cy="218.6" r="2.1" fill="none" stroke="#9a1aa0" stroke-width="0.6" stroke-dasharray="1.6 0.9"/>
<circle cx="193.3" cy="208.5" r="2.1" fill="none" stroke="#9a1aa0" stroke-width="0.6" stroke-dasharray="1.6 0.9"/>
<circle cx="213.7" cy="179.5" r="2.1" fill="none" stroke="#9a1aa0" stroke-width="0.6" stroke-dasharray="1.6 0.9"/>
<circle cx="203.6" cy="198.1" r="2.1" fill="none" stroke="#9a1aa0" stroke-width="0.6" stroke-dasharray="1.6 0.9"/>
<circle cx="202.0" cy="187.6" r="2.1" fill="none" stroke="#9a1aa0" stroke-width="0.6" stroke-dasharray="1.6 0.9"/>
<circle cx="184.5" cy="194.7" r="2.1" fill="none" stroke="#9a1aa0" stroke-width="0.6" stroke-dasharray="1.6 0.9"/>
<circle cx="211.7" cy="198.3" r="2.1" fill="none" stroke="#9a1aa0" stroke-width="0.6" stroke-dasharray="1.6 0.9"/>
<circle cx="177.1" cy="191.8" r="2.1" fill="none" stroke="#9a1aa0" stroke-width="0.6" stroke-dasharray="1.6 0.9"/>
<circle cx="191.8" cy="215.8" r="2.1" fill="none" stroke="#9a1aa0" stroke-width="0.6" stroke-dasharray="1.6 0.9"/>
<circle cx="180.9" cy="195.7" r="2.1" fill="none" stroke="#9a1aa0" stroke-width="0.6" stroke-dasharray="1.6 0.9"/>
<circle cx="206.2" cy="216.3" r="2.1" fill="none" stroke="#9a1aa0" stroke-width="0.6" stroke-dasharray="1.6 0.9"/>
<circle cx="190.6" cy="205.4" r="2.1" fill="none" stroke="#9a1aa0" stroke-width="0.6" stroke-dasharray="1.6 0.9"/>
<circle cx="189.3" cy="179.4" r="2.1" fill="none" stroke="#9a1aa0" stroke-width="0.6" stroke-dasharray="1.6 0.9"/>
<circle cx="200.4" cy="203.0" r="2.1" fill="none" stroke="#9a1aa0" stroke-width="0.6" stroke-dasharray="1.6 0.9"/>
<circle cx="188.4" cy="213.0" r="2.1" fill="none" stroke="#9a1aa0" stroke-width="0.6" stroke-dasharray="1.6 0.9"/>
<circle cx="201.1" cy="191.3" r="2.1" fill="none" stroke="#9a1aa0" stroke-width="0.6" stroke-dasharray="1.6 0.9"/>
<circle cx="200.0" cy="180.1" r="2.1" fill="none" stroke="#9a1aa0" stroke-width="0.6" stroke-dasharray="1.6 0.9"/>
<circle cx="204.1" cy="205.2" r="2.1" fill="none" stroke="#9a1aa0" stroke-width="0.6" stroke-dasharray="1.6 0.9"/>
<circle cx="213.3" cy="189.7" r="2.1" fill="none" stroke="#9a1aa0" stroke-width="0.6" stroke-dasharray="1.6 0.9"/>
<circle cx="204.3" cy="183.2" r="2.1" fill="none" stroke="#9a1aa0" stroke-width="0.6" stroke-dasharray="1.6 0.9"/>
<circle cx="176.7" cy="208.4" r="2.1" fill="none" stroke="#9a1aa0" stroke-width="0.6" stroke-dasharray="1.6 0.9"/>
<circle cx="198.0" cy="195.5" r="2.1" fill="none" stroke="#9a1aa0" stroke-width="0.6" stroke-dasharray="1.6 0.9"/>
<circle cx="183.7" cy="214.6" r="2.1" fill="none" stroke="#9a1aa0" stroke-width="0.6" stroke-dasharray="1.6 0.9"/>
<circle cx="181.6" cy="200.2" r="2.1" fill="none" stroke="#9a1aa0" stroke-width="0.6" stroke-dasharray="1.6 0.9"/>
<circle cx="210.9" cy="207.3" r="2.1" fill="none" stroke="#9a1aa0" stroke-width="0.6" stroke-dasharray="1.6 0.9"/>
<circle cx="202.2" cy="216.4" r="2.1" fill="none" stroke="#9a1aa0" stroke-width="0.6" stroke-dasharray="1.6 0.9"/>
<circle cx="179.5" cy="179.6" r="2.1" fill="none" stroke="#9a1aa0" stroke-width="0.6" stroke-dasharray="1.6 0.9"/>
<circle cx="194.7" cy="213.2" r="2.1" fill="none" stroke="#9a1aa0" stroke-width="0.6" stroke-dasharray="1.6 0.9"/>
<circle cx="194.1" cy="219.1" r="2.1" fill="none" stroke="#9a1aa0" stroke-width="0.6" stroke-dasharray="1.6 0.9"/>
<circle cx="175.9" cy="179.3" r="2.1" fill="none" stroke="#9a1aa0" stroke-width="0.6" stroke-dasharray="1.6 0.9"/>
<circle cx="193.2" cy="180.4" r="2.1" fill="none" stroke="#9a1aa0" stroke-width="0.6" stroke-dasharray="1.6 0.9"/>
<circle cx="196.4" cy="201.0" r="2.1" fill="none" stroke="#9a1aa0" stroke-width="0.6" stroke-dasharray="1.6 0.9"/>
<circle cx="177.9" cy="203.9" r="2.1" fill="none" stroke="#9a1aa0" stroke-width="0.6" stroke-dasharray="1.6 0.9"/>
<circle cx="173.7" cy="218.6" r="2.1" fill="none" stroke="#9a1aa0" stroke-width="0.6" stroke-dasharray="1.6 0.9"/>
<circle cx="207.7" cy="196.5" r="2.1" fill="none" stroke="#9a1aa0" stroke-width="0.6" stroke-dasharray="1.6 0.9"/>
<circle cx="185.1" cy="187.8" r="2.1" fill="none" stroke="#9a1aa0" stroke-width="0.6" stroke-dasharray="1.6 0.9"/>
<circle cx="207.4" cy="207.6" r="2.1" fill="none" stroke="#9a1aa0" stroke-width="0.6" stroke-dasharray="1.6 0.9"/>
<circle cx="180.2" cy="190.3" r="2.1" fill="none" stroke="#9a1aa0" stroke-width="0.6" stroke-dasharray="1.6 0.9"/>
<circle cx="173.2" cy="209.4" r="2.1" fill="none" stroke="#9a1aa0" stroke-width="0.6" stroke-dasharray="1.6 0.9"/>
<circle cx="192.5" cy="198.0" r="2.1" fill="none" stroke="#9a1aa0" stroke-width="0.6" stroke-dasharray="1.6 0.9"/>
<circle cx="204.0" cy="179.5" r="2.1" fill="none" stroke="#9a1aa0" stroke-width="0.6" stroke-dasharray="1.6 0.9"/>
<circle cx="209.7" cy="214.5" r="2.1" fill="none" stroke="#9a1aa0" stroke-width="0.6" stroke-dasharray="1.6 0.9"/>
<circle cx="212.3" cy="212.3" r="2.1" fill="none" stroke="#9a1aa0" stroke-width="0.6" stroke-dasharray="1.6 0.9"/>
<circle cx="192.5" cy="192.0" r="2.1" fill="none" stroke="#9a1aa0" stroke-width="0.6" stroke-dasharray="1.6 0.9"/>
<circle cx="201.5" cy="195.3" r="2.1" fill="none" stroke="#9a1aa0" stroke-width="0.6" stroke-dasharray="1.6 0.9"/>
<circle cx="213.8" cy="219.8" r="2.1" fill="none" stroke="#9a1aa0" stroke-width="0.6" stroke-dasharray="1.6 0.9"/>
<circle cx="196.2" cy="186.0" r="2.1" fill="none" stroke="#9a1aa0" stroke-width="0.6" stroke-dasharray="1.6 0.9"/>
<circle cx="190.4" cy="182.7" r="2.1" fill="none" stroke="#9a1aa0" stroke-width="0.6" stroke-dasharray="1.6 0.9"/>
<circle cx="200.2" cy="210.2" r="2.1" fill="none" stroke="#9a1aa0" stroke-width="0.6" stroke-dasharray="1.6 0.9"/>
<circle cx="173.3" cy="214.9" r="2.1" fill="none" stroke="#9a1aa0" stroke-width="0.6" stroke-dasharray="1.6 0.9"/>
<circle cx="185.3" cy="210.6" r="2.1" fill="none" stroke="#9a1aa0" stroke-width="0.6" stroke-dasharray="1.6 0.9"/>
<circle cx="206.3" cy="219.8" r="2.1" fill="none" stroke="#9a1aa0" stroke-width="0.6" stroke-dasharray="1.6 0.9"/>
<circle cx="213.4" cy="186.3" r="2.1" fill="none" stroke="#9a1aa0" stroke-width="0.6" stroke-dasharray="1.6 0.9"/>
<circle cx="177.1" cy="195.3" r="2.1" fill="none" stroke="#9a1aa0" stroke-width="0.6" stroke-dasharray="1.6 0.9"/>
<circle cx="185.9" cy="179.7" r="2.1" fill="none" stroke="#9a1aa0" stroke-width="0.6" stroke-dasharray="1.6 0.9"/>
<circle cx="196.4" cy="216.4" r="2.1" fill="none" stroke="#9a1aa0" stroke-width="0.6" stroke-dasharray="1.6 0.9"/>
<circle cx="177.2" cy="185.7" r="2.1" fill="none" stroke="#9a1aa0" stroke-width="0.6" stroke-dasharray="1.6 0.9"/>
<circle cx="191.6" cy="211.8" r="2.1" fill="none" stroke="#9a1aa0" stroke-width="0.6" stroke-dasharray="1.6 0.9"/>
<circle cx="180.4" cy="219.8" r="2.1" fill="none" stroke="#9a1aa0" stroke-width="0.6" stroke-dasharray="1.6 0.9"/>
<circle cx="184.7" cy="201.4" r="2.1" fill="none" stroke="#9a1aa0" stroke-width="0.6" stroke-dasharray="1.6 0.9"/>
<ellipse cx="179.9" cy="207.4" rx="1.2" ry="1.1" transform="rotate(75 179.9 207.4)" fill="#22e2b0"/>
<ellipse cx="199.2" cy="198.8" rx="1.2" ry="1.3" transform="rotate(179 199.2 198.8)" fill="#22e2b0"/>
<ellipse cx="182.0" cy="211.6" rx="1.8" ry="1.4" transform="rotate(47 182.0 211.6)" fill="#22e2b0"/>
<ellipse cx="206.2" cy="200.2" rx="1.3" ry="1.3" transform="rotate(91 206.2 200.2)" fill="#22e2b0"/>
<ellipse cx="193.9" cy="188.9" rx="1.3" ry="1.2" transform="rotate(161 193.9 188.9)" fill="#22e2b0"/>
<ellipse cx="173.3" cy="194.4" rx="1.7" ry="1.3" transform="rotate(96 173.3 194.4)" fill="#22e2b0"/>
<ellipse cx="197.1" cy="182.0" rx="1.6" ry="1.1" transform="rotate(42 197.1 182.0)" fill="#22e2b0"/>
<ellipse cx="205.7" cy="188.7" rx="1.9" ry="1.2" transform="rotate(111 205.7 188.7)" fill="#22e2b0"/>
<ellipse cx="182.7" cy="180.9" rx="1.5" ry="1.5" transform="rotate(132 182.7 180.9)" fill="#22e2b0"/>
<ellipse cx="214.0" cy="209.4" rx="1.6" ry="1.2" transform="rotate(51 214.0 209.4)" fill="#22e2b0"/>
<ellipse cx="209.0" cy="204.4" rx="1.2" ry="1.2" transform="rotate(82 209.0 204.4)" fill="#22e2b0"/>
<ellipse cx="193.5" cy="183.9" rx="1.9" ry="1.2" transform="rotate(82 193.5 183.9)" fill="#22e2b0"/>
<ellipse cx="212.1" cy="194.3" rx="1.8" ry="1.2" transform="rotate(41 212.1 194.3)" fill="#22e2b0"/>
<ellipse cx="178.3" cy="217.2" rx="1.8" ry="1.1" transform="rotate(69 178.3 217.2)" fill="#22e2b0"/>
<ellipse cx="191.7" cy="201.8" rx="1.9" ry="1.2" transform="rotate(34 191.7 201.8)" fill="#22e2b0"/>
<ellipse cx="187.2" cy="199.0" rx="1.6" ry="1.2" transform="rotate(151 187.2 199.0)" fill="#22e2b0"/>
<ellipse cx="212.8" cy="215.8" rx="1.8" ry="1.3" transform="rotate(3 212.8 215.8)" fill="#22e2b0"/>
<ellipse cx="204.1" cy="210.4" rx="1.3" ry="1.2" transform="rotate(37 204.1 210.4)" fill="#22e2b0"/>
<ellipse cx="197.0" cy="209.0" rx="1.6" ry="1.2" transform="rotate(102 197.0 209.0)" fill="#22e2b0"/>
<ellipse cx="178.2" cy="198.7" rx="1.6" ry="1.1" transform="rotate(52 178.2 198.7)" fill="#22e2b0"/>
<ellipse cx="190.0" cy="194.1" rx="1.3" ry="1.1" transform="rotate(35 190.0 194.1)" fill="#22e2b0"/>
<ellipse cx="174.3" cy="183.0" rx="1.2" ry="1.3" transform="rotate(72 174.3 183.0)" fill="#22e2b0"/>
<ellipse cx="202.6" cy="219.8" rx="1.6" ry="1.1" transform="rotate(42 202.6 219.8)" fill="#22e2b0"/>
<ellipse cx="182.3" cy="204.1" rx="1.4" ry="1.2" transform="rotate(63 182.3 204.1)" fill="#22e2b0"/>
<ellipse cx="196.0" cy="204.7" rx="1.6" ry="1.0" transform="rotate(116 196.0 204.7)" fill="#22e2b0"/>
<ellipse cx="180.6" cy="186.2" rx="1.5" ry="1.4" transform="rotate(72 180.6 186.2)" fill="#22e2b0"/>
<ellipse cx="187.4" cy="217.1" rx="1.2" ry="1.1" transform="rotate(58 187.4 217.1)" fill="#22e2b0"/>
<ellipse cx="187.4" cy="203.6" rx="1.5" ry="1.4" transform="rotate(49 187.4 203.6)" fill="#22e2b0"/>
<ellipse cx="185.7" cy="183.4" rx="1.7" ry="1.1" transform="rotate(10 185.7 183.4)" fill="#22e2b0"/>
<ellipse cx="175.9" cy="212.5" rx="1.9" ry="1.3" transform="rotate(144 175.9 212.5)" fill="#22e2b0"/>
<ellipse cx="205.0" cy="194.5" rx="1.2" ry="1.1" transform="rotate(38 205.0 194.5)" fill="#22e2b0"/>
<ellipse cx="201.1" cy="206.8" rx="1.4" ry="1.5" transform="rotate(98 201.1 206.8)" fill="#22e2b0"/>
<ellipse cx="210.0" cy="218.4" rx="1.3" ry="1.3" transform="rotate(79 210.0 218.4)" fill="#22e2b0"/>
<ellipse cx="189.8" cy="219.7" rx="1.2" ry="1.2" transform="rotate(45 189.8 219.7)" fill="#22e2b0"/>
<ellipse cx="212.5" cy="203.4" rx="1.6" ry="1.4" transform="rotate(116 212.5 203.4)" fill="#22e2b0"/>
<ellipse cx="188.6" cy="189.3" rx="1.4" ry="1.0" transform="rotate(33 188.6 189.3)" fill="#22e2b0"/>
<ellipse cx="209.0" cy="185.8" rx="1.6" ry="1.2" transform="rotate(0 209.0 185.8)" fill="#22e2b0"/>
<ellipse cx="207.4" cy="181.3" rx="1.3" ry="1.2" transform="rotate(51 207.4 181.3)" fill="#22e2b0"/>
<ellipse cx="183.8" cy="191.1" rx="1.4" ry="1.1" transform="rotate(97 183.8 191.1)" fill="#22e2b0"/>
<ellipse cx="190.4" cy="186.2" rx="1.2" ry="1.5" transform="rotate(15 190.4 186.2)" fill="#22e2b0"/>
<ellipse cx="183.5" cy="218.4" rx="1.7" ry="0.9" transform="rotate(103 183.5 218.4)" fill="#22e2b0"/>
<ellipse cx="174.4" cy="187.9" rx="1.5" ry="1.0" transform="rotate(100 174.4 187.9)" fill="#22e2b0"/>
<ellipse cx="207.5" cy="211.7" rx="1.5" ry="1.4" transform="rotate(9 207.5 211.7)" fill="#22e2b0"/>
<ellipse cx="207.9" cy="191.8" rx="1.9" ry="0.9" transform="rotate(54 207.9 191.8)" fill="#22e2b0"/>
<ellipse cx="174.2" cy="203.5" rx="1.4" ry="1.4" transform="rotate(135 174.2 203.5)" fill="#22e2b0"/>
<ellipse cx="199.5" cy="214.0" rx="1.3" ry="1.2" transform="rotate(64 199.5 214.0)" fill="#22e2b0"/>
<ellipse cx="197.1" cy="189.7" rx="1.5" ry="0.9" transform="rotate(50 197.1 189.7)" fill="#22e2b0"/>
<ellipse cx="200.0" cy="184.4" rx="1.7" ry="1.0" transform="rotate(169 200.0 184.4)" fill="#22e2b0"/>
<ellipse cx="188.7" cy="208.2" rx="1.5" ry="1.1" transform="rotate(124 188.7 208.2)" fill="#22e2b0"/>
<ellipse cx="173.5" cy="198.2" rx="1.6" ry="0.9" transform="rotate(91 173.5 198.2)" fill="#22e2b0"/>
<ellipse cx="183.5" cy="207.7" rx="1.6" ry="0.9" transform="rotate(61 183.5 207.7)" fill="#22e2b0"/>
<ellipse cx="212.0" cy="183.2" rx="1.5" ry="1.2" transform="rotate(124 212.0 183.2)" fill="#22e2b0"/>
<ellipse cx="177.6" cy="182.3" rx="1.7" ry="1.4" transform="rotate(119 177.6 182.3)" fill="#22e2b0"/>
<ellipse cx="194.4" cy="195.1" rx="1.7" ry="1.2" transform="rotate(149 194.4 195.1)" fill="#22e2b0"/>
<ellipse cx="199.0" cy="218.6" rx="1.5" ry="1.3" transform="rotate(152 199.0 218.6)" fill="#22e2b0"/>
<ellipse cx="193.3" cy="208.5" rx="1.3" ry="1.3" transform="rotate(141 193.3 208.5)" fill="#22e2b0"/>
<ellipse cx="213.7" cy="179.5" rx="1.9" ry="1.2" transform="rotate(72 213.7 179.5)" fill="#22e2b0"/>
<ellipse cx="203.6" cy="198.1" rx="1.7" ry="1.1" transform="rotate(114 203.6 198.1)" fill="#22e2b0"/>
<ellipse cx="202.0" cy="187.6" rx="1.7" ry="1.3" transform="rotate(154 202.0 187.6)" fill="#22e2b0"/>
<ellipse cx="184.5" cy="194.7" rx="1.2" ry="1.5" transform="rotate(114 184.5 194.7)" fill="#22e2b0"/>
<ellipse cx="211.7" cy="198.3" rx="1.9" ry="1.2" transform="rotate(136 211.7 198.3)" fill="#22e2b0"/>
<ellipse cx="177.1" cy="191.8" rx="1.6" ry="1.4" transform="rotate(161 177.1 191.8)" fill="#22e2b0"/>
<ellipse cx="191.8" cy="215.8" rx="1.8" ry="1.3" transform="rotate(133 191.8 215.8)" fill="#22e2b0"/>
<ellipse cx="180.9" cy="195.7" rx="1.4" ry="1.5" transform="rotate(57 180.9 195.7)" fill="#22e2b0"/>
<ellipse cx="206.2" cy="216.3" rx="1.4" ry="0.9" transform="rotate(112 206.2 216.3)" fill="#22e2b0"/>
<ellipse cx="190.6" cy="205.4" rx="1.7" ry="1.3" transform="rotate(58 190.6 205.4)" fill="#22e2b0"/>
<ellipse cx="189.3" cy="179.4" rx="1.6" ry="1.4" transform="rotate(134 189.3 179.4)" fill="#22e2b0"/>
<ellipse cx="200.4" cy="203.0" rx="1.3" ry="1.2" transform="rotate(62 200.4 203.0)" fill="#22e2b0"/>
<ellipse cx="188.4" cy="213.0" rx="1.9" ry="1.2" transform="rotate(0 188.4 213.0)" fill="#22e2b0"/>
<ellipse cx="201.1" cy="191.3" rx="1.2" ry="1.2" transform="rotate(104 201.1 191.3)" fill="#22e2b0"/>
<ellipse cx="200.0" cy="180.1" rx="1.2" ry="1.3" transform="rotate(23 200.0 180.1)" fill="#22e2b0"/>
<ellipse cx="204.1" cy="205.2" rx="1.3" ry="1.0" transform="rotate(39 204.1 205.2)" fill="#22e2b0"/>
<ellipse cx="213.3" cy="189.7" rx="1.8" ry="1.0" transform="rotate(40 213.3 189.7)" fill="#22e2b0"/>
<ellipse cx="204.3" cy="183.2" rx="1.8" ry="1.1" transform="rotate(131 204.3 183.2)" fill="#22e2b0"/>
<ellipse cx="176.7" cy="208.4" rx="1.7" ry="1.3" transform="rotate(47 176.7 208.4)" fill="#22e2b0"/>
<ellipse cx="198.0" cy="195.5" rx="1.4" ry="1.1" transform="rotate(73 198.0 195.5)" fill="#22e2b0"/>
<ellipse cx="183.7" cy="214.6" rx="1.7" ry="1.1" transform="rotate(21 183.7 214.6)" fill="#22e2b0"/>
<ellipse cx="181.6" cy="200.2" rx="1.2" ry="1.3" transform="rotate(19 181.6 200.2)" fill="#22e2b0"/>
<ellipse cx="210.9" cy="207.3" rx="1.2" ry="1.0" transform="rotate(144 210.9 207.3)" fill="#22e2b0"/>
<ellipse cx="202.2" cy="216.4" rx="1.5" ry="1.2" transform="rotate(83 202.2 216.4)" fill="#22e2b0"/>
<ellipse cx="179.5" cy="179.6" rx="1.3" ry="1.0" transform="rotate(179 179.5 179.6)" fill="#22e2b0"/>
<ellipse cx="194.7" cy="213.2" rx="1.5" ry="1.4" transform="rotate(68 194.7 213.2)" fill="#22e2b0"/>
<ellipse cx="194.1" cy="219.1" rx="1.2" ry="1.4" transform="rotate(158 194.1 219.1)" fill="#22e2b0"/>
<ellipse cx="175.9" cy="179.3" rx="1.3" ry="1.3" transform="rotate(7 175.9 179.3)" fill="#22e2b0"/>
<ellipse cx="193.2" cy="180.4" rx="1.2" ry="1.4" transform="rotate(126 193.2 180.4)" fill="#22e2b0"/>
<ellipse cx="196.4" cy="201.0" rx="1.9" ry="1.1" transform="rotate(9 196.4 201.0)" fill="#22e2b0"/>
<ellipse cx="177.9" cy="203.9" rx="1.4" ry="1.3" transform="rotate(57 177.9 203.9)" fill="#22e2b0"/>
<ellipse cx="173.7" cy="218.6" rx="1.4" ry="1.5" transform="rotate(38 173.7 218.6)" fill="#22e2b0"/>
<ellipse cx="207.7" cy="196.5" rx="1.8" ry="1.2" transform="rotate(135 207.7 196.5)" fill="#22e2b0"/>
<ellipse cx="185.1" cy="187.8" rx="1.3" ry="1.1" transform="rotate(79 185.1 187.8)" fill="#22e2b0"/>
<ellipse cx="207.4" cy="207.6" rx="1.3" ry="1.0" transform="rotate(119 207.4 207.6)" fill="#22e2b0"/>
<ellipse cx="180.2" cy="190.3" rx="1.5" ry="1.5" transform="rotate(32 180.2 190.3)" fill="#22e2b0"/>
<ellipse cx="173.2" cy="209.4" rx="1.3" ry="1.2" transform="rotate(165 173.2 209.4)" fill="#22e2b0"/>
<ellipse cx="192.5" cy="198.0" rx="1.8" ry="1.2" transform="rotate(16 192.5 198.0)" fill="#22e2b0"/>
<ellipse cx="204.0" cy="179.5" rx="1.4" ry="1.3" transform="rotate(109 204.0 179.5)" fill="#22e2b0"/>
<ellipse cx="209.7" cy="214.5" rx="1.9" ry="1.4" transform="rotate(59 209.7 214.5)" fill="#22e2b0"/>
<ellipse cx="212.3" cy="212.3" rx="1.9" ry="1.2" transform="rotate(8 212.3 212.3)" fill="#22e2b0"/>
<ellipse cx="192.5" cy="192.0" rx="1.6" ry="1.3" transform="rotate(45 192.5 192.0)" fill="#22e2b0"/>
<ellipse cx="201.5" cy="195.3" rx="1.2" ry="1.2" transform="rotate(55 201.5 195.3)" fill="#22e2b0"/>
<ellipse cx="213.8" cy="219.8" rx="1.2" ry="1.0" transform="rotate(170 213.8 219.8)" fill="#22e2b0"/>
<ellipse cx="196.2" cy="186.0" rx="1.9" ry="0.9" transform="rotate(55 196.2 186.0)" fill="#22e2b0"/>
<ellipse cx="190.4" cy="182.7" rx="1.4" ry="1.1" transform="rotate(138 190.4 182.7)" fill="#22e2b0"/>
<ellipse cx="200.2" cy="210.2" rx="1.2" ry="1.0" transform="rotate(93 200.2 210.2)" fill="#22e2b0"/>
<ellipse cx="173.3" cy="214.9" rx="1.2" ry="1.5" transform="rotate(176 173.3 214.9)" fill="#22e2b0"/>
<ellipse cx="185.3" cy="210.6" rx="1.9" ry="1.1" transform="rotate(72 185.3 210.6)" fill="#22e2b0"/>
<ellipse cx="206.3" cy="219.8" rx="1.5" ry="1.2" transform="rotate(103 206.3 219.8)" fill="#22e2b0"/>
<ellipse cx="213.4" cy="186.3" rx="1.3" ry="1.0" transform="rotate(34 213.4 186.3)" fill="#22e2b0"/>
<ellipse cx="177.1" cy="195.3" rx="1.6" ry="1.3" transform="rotate(18 177.1 195.3)" fill="#22e2b0"/>
<ellipse cx="185.9" cy="179.7" rx="1.3" ry="1.0" transform="rotate(13 185.9 179.7)" fill="#22e2b0"/>
<ellipse cx="196.4" cy="216.4" rx="1.8" ry="1.2" transform="rotate(171 196.4 216.4)" fill="#22e2b0"/>
<ellipse cx="177.2" cy="185.7" rx="1.3" ry="1.3" transform="rotate(116 177.2 185.7)" fill="#22e2b0"/>
<ellipse cx="191.6" cy="211.8" rx="1.5" ry="1.3" transform="rotate(143 191.6 211.8)" fill="#22e2b0"/>
<ellipse cx="180.4" cy="219.8" rx="1.2" ry="1.1" transform="rotate(62 180.4 219.8)" fill="#22e2b0"/>
<ellipse cx="184.7" cy="201.4" rx="1.4" ry="1.4" transform="rotate(72 184.7 201.4)" fill="#22e2b0"/>
</g>
<path d="M219.7,179.2 L271.8,179.2 Q273.8,179.2 273.8,181.2 L273.8,217.4 Q273.8,219.4 271.8,219.4 L219.7,219.4 Q217.7,219.4 217.7,217.4 L217.7,182 Z" fill="#e3eaee" stroke="#d2dbe0" stroke-width="0.6"/>
<rect x="221.2" y="182" width="51" height="35" fill="#f6f8f9"/>
<circle cx="224.80" cy="185.80" r="1.78" fill="#e27cb4"/>
<circle cx="228.82" cy="185.80" r="1.78" fill="#e27cb4"/>
<circle cx="232.84" cy="185.80" r="1.78" fill="#e27cb4"/>
<circle cx="236.86" cy="185.80" r="1.78" fill="#e27cb4"/>
<circle cx="240.88" cy="185.80" r="1.78" fill="#e27cb4"/>
<circle cx="244.90" cy="185.80" r="1.78" fill="#e27cb4"/>
<circle cx="248.92" cy="185.80" r="1.78" fill="#e27cb4"/>
<circle cx="252.94" cy="185.80" r="1.78" fill="#e27cb4"/>
<circle cx="256.96" cy="185.80" r="1.78" fill="#e27cb4"/>
<circle cx="260.98" cy="185.80" r="1.78" fill="#e27cb4"/>
<circle cx="265.00" cy="185.80" r="1.78" fill="#86c6ec"/>
<circle cx="269.02" cy="185.80" r="1.78" fill="#e27cb4"/>
<circle cx="224.80" cy="189.77" r="1.78" fill="#86c6ec"/>
<circle cx="228.82" cy="189.77" r="1.78" fill="#86c6ec"/>
<circle cx="232.84" cy="189.77" r="1.78" fill="#e27cb4"/>
<circle cx="236.86" cy="189.77" r="1.78" fill="#e27cb4"/>
<circle cx="240.88" cy="189.77" r="1.78" fill="#e27cb4"/>
<circle cx="244.90" cy="189.77" r="1.78" fill="#e27cb4"/>
<circle cx="248.92" cy="189.77" r="1.78" fill="#e27cb4"/>
<circle cx="252.94" cy="189.77" r="1.78" fill="#e27cb4"/>
<circle cx="256.96" cy="189.77" r="1.78" fill="#e27cb4"/>
<circle cx="260.98" cy="189.77" r="1.78" fill="#e27cb4"/>
<circle cx="265.00" cy="189.77" r="1.78" fill="#86c6ec"/>
<circle cx="269.02" cy="189.77" r="1.78" fill="#e27cb4"/>
<circle cx="224.80" cy="193.74" r="1.78" fill="#e27cb4"/>
<circle cx="228.82" cy="193.74" r="1.78" fill="#e27cb4"/>
<circle cx="232.84" cy="193.74" r="1.78" fill="#e27cb4"/>
<circle cx="236.86" cy="193.74" r="1.78" fill="#e27cb4"/>
<circle cx="240.88" cy="193.74" r="1.78" fill="#e27cb4"/>
<circle cx="244.90" cy="193.74" r="1.78" fill="#e27cb4"/>
<circle cx="248.92" cy="193.74" r="1.78" fill="#e27cb4"/>
<circle cx="252.94" cy="193.74" r="1.78" fill="#e27cb4"/>
<circle cx="256.96" cy="193.74" r="1.78" fill="#86c6ec"/>
<circle cx="260.98" cy="193.74" r="1.78" fill="#e27cb4"/>
<circle cx="265.00" cy="193.74" r="1.78" fill="#e27cb4"/>
<circle cx="269.02" cy="193.74" r="1.78" fill="#e27cb4"/>
<circle cx="224.80" cy="197.71" r="1.78" fill="#e27cb4"/>
<circle cx="228.82" cy="197.71" r="1.78" fill="#86c6ec"/>
<circle cx="232.84" cy="197.71" r="1.78" fill="#e27cb4"/>
<circle cx="236.86" cy="197.71" r="1.78" fill="#e27cb4"/>
<circle cx="240.88" cy="197.71" r="1.78" fill="#e27cb4"/>
<circle cx="244.90" cy="197.71" r="1.78" fill="#86c6ec"/>
<circle cx="248.92" cy="197.71" r="1.78" fill="#a472d8"/>
<circle cx="252.94" cy="197.71" r="1.78" fill="#86c6ec"/>
<circle cx="256.96" cy="197.71" r="1.78" fill="#e27cb4"/>
<circle cx="260.98" cy="197.71" r="1.78" fill="#e27cb4"/>
<circle cx="265.00" cy="197.71" r="1.78" fill="#86c6ec"/>
<circle cx="269.02" cy="197.71" r="1.78" fill="#e27cb4"/>
<circle cx="224.80" cy="201.68" r="1.78" fill="#e27cb4"/>
<circle cx="228.82" cy="201.68" r="1.78" fill="#e27cb4"/>
<circle cx="232.84" cy="201.68" r="1.78" fill="#e27cb4"/>
<circle cx="236.86" cy="201.68" r="1.78" fill="#e27cb4"/>
<circle cx="240.88" cy="201.68" r="1.78" fill="#e27cb4"/>
<circle cx="244.90" cy="201.68" r="1.78" fill="#e27cb4"/>
<circle cx="248.92" cy="201.68" r="1.78" fill="#e27cb4"/>
<circle cx="252.94" cy="201.68" r="1.78" fill="#e27cb4"/>
<circle cx="256.96" cy="201.68" r="1.78" fill="#e27cb4"/>
<circle cx="260.98" cy="201.68" r="1.78" fill="#e27cb4"/>
<circle cx="265.00" cy="201.68" r="1.78" fill="#86c6ec"/>
<circle cx="269.02" cy="201.68" r="1.78" fill="#e27cb4"/>
<circle cx="224.80" cy="205.65" r="1.78" fill="#e27cb4"/>
<circle cx="228.82" cy="205.65" r="1.78" fill="#e27cb4"/>
<circle cx="232.84" cy="205.65" r="1.78" fill="#e27cb4"/>
<circle cx="236.86" cy="205.65" r="1.78" fill="#e27cb4"/>
<circle cx="240.88" cy="205.65" r="1.78" fill="#e27cb4"/>
<circle cx="244.90" cy="205.65" r="1.78" fill="#e27cb4"/>
<circle cx="248.92" cy="205.65" r="1.78" fill="#e27cb4"/>
<circle cx="252.94" cy="205.65" r="1.78" fill="#e27cb4"/>
<circle cx="256.96" cy="205.65" r="1.78" fill="#a472d8"/>
<circle cx="260.98" cy="205.65" r="1.78" fill="#e27cb4"/>
<circle cx="265.00" cy="205.65" r="1.78" fill="#86c6ec"/>
<circle cx="269.02" cy="205.65" r="1.78" fill="#e27cb4"/>
<circle cx="224.80" cy="209.62" r="1.78" fill="#e27cb4"/>
<circle cx="228.82" cy="209.62" r="1.78" fill="#86c6ec"/>
<circle cx="232.84" cy="209.62" r="1.78" fill="#e27cb4"/>
<circle cx="236.86" cy="209.62" r="1.78" fill="#e27cb4"/>
<circle cx="240.88" cy="209.62" r="1.78" fill="#e27cb4"/>
<circle cx="244.90" cy="209.62" r="1.78" fill="#e27cb4"/>
<circle cx="248.92" cy="209.62" r="1.78" fill="#e27cb4"/>
<circle cx="252.94" cy="209.62" r="1.78" fill="#e27cb4"/>
<circle cx="256.96" cy="209.62" r="1.78" fill="#e27cb4"/>
<circle cx="260.98" cy="209.62" r="1.78" fill="#e27cb4"/>
<circle cx="265.00" cy="209.62" r="1.78" fill="#e27cb4"/>
<circle cx="269.02" cy="209.62" r="1.78" fill="#e27cb4"/>
<circle cx="224.80" cy="213.59" r="1.78" fill="#e27cb4"/>
<circle cx="228.82" cy="213.59" r="1.78" fill="#86c6ec"/>
<circle cx="232.84" cy="213.59" r="1.78" fill="#e27cb4"/>
<circle cx="236.86" cy="213.59" r="1.78" fill="#e27cb4"/>
<circle cx="240.88" cy="213.59" r="1.78" fill="#e27cb4"/>
<circle cx="244.90" cy="213.59" r="1.78" fill="#a472d8"/>
<circle cx="248.92" cy="213.59" r="1.78" fill="#a472d8"/>
<circle cx="252.94" cy="213.59" r="1.78" fill="#e27cb4"/>
<circle cx="256.96" cy="213.59" r="1.78" fill="#e27cb4"/>
<circle cx="260.98" cy="213.59" r="1.78" fill="#e27cb4"/>
<circle cx="265.00" cy="213.59" r="1.78" fill="#e27cb4"/>
<circle cx="269.02" cy="213.59" r="1.78" fill="#e27cb4"/>
<text x="314.51" y="11.50" font-size="14.5" font-weight="bold" fill="#000" textLength="9.22" lengthAdjust="spacingAndGlyphs">b</text>
<g stroke-width="1" fill-opacity="0.55" stroke-opacity="0.55">
<circle cx="386.7" cy="46.3" r="3.55" fill="#4c02a1" stroke="#4c02a1" fill-opacity="0.62" stroke-opacity="0.62"/>
<circle cx="389.1" cy="48.7" r="3.55" fill="#4c02a1" stroke="#4c02a1" fill-opacity="0.62" stroke-opacity="0.62"/>
<circle cx="385.5" cy="49.9" r="3.55" fill="#4c02a1" stroke="#4c02a1" fill-opacity="0.62" stroke-opacity="0.62"/>
<circle cx="397.6" cy="47.5" r="3.55" fill="#4c02a1" stroke="#4c02a1" fill-opacity="0.62" stroke-opacity="0.62"/>
<circle cx="401.2" cy="45.1" r="3.55" fill="#4c02a1" stroke="#4c02a1" fill-opacity="0.62" stroke-opacity="0.62"/>
<circle cx="406.0" cy="46.3" r="3.55" fill="#4c02a1" stroke="#4c02a1" fill-opacity="0.62" stroke-opacity="0.62"/>
<circle cx="396.4" cy="52.4" r="3.55" fill="#4c02a1" stroke="#4c02a1" fill-opacity="0.62" stroke-opacity="0.62"/>
<circle cx="400.0" cy="53.6" r="3.55" fill="#4c02a1" stroke="#4c02a1" fill-opacity="0.62" stroke-opacity="0.62"/>
<circle cx="398.8" cy="49.9" r="3.55" fill="#4c02a1" stroke="#4c02a1" fill-opacity="0.62" stroke-opacity="0.62"/>
<circle cx="416.8" cy="51.1" r="3.55" fill="#4c02a1" stroke="#4c02a1" fill-opacity="0.62" stroke-opacity="0.62"/>
<circle cx="420.4" cy="48.7" r="3.55" fill="#4c02a1" stroke="#4c02a1" fill-opacity="0.62" stroke-opacity="0.62"/>
<circle cx="425.3" cy="48.7" r="3.55" fill="#4c02a1" stroke="#4c02a1" fill-opacity="0.62" stroke-opacity="0.62"/>
<circle cx="427.7" cy="53.6" r="3.55" fill="#4c02a1" stroke="#4c02a1" fill-opacity="0.62" stroke-opacity="0.62"/>
<circle cx="430.1" cy="56.0" r="3.55" fill="#4c02a1" stroke="#4c02a1" fill-opacity="0.62" stroke-opacity="0.62"/>
<circle cx="426.5" cy="57.2" r="3.55" fill="#4c02a1" stroke="#4c02a1" fill-opacity="0.62" stroke-opacity="0.62"/>
<circle cx="386.7" cy="64.4" r="3.55" fill="#4c02a1" stroke="#4c02a1" fill-opacity="0.62" stroke-opacity="0.62"/>
<circle cx="391.5" cy="64.4" r="3.55" fill="#4c02a1" stroke="#4c02a1" fill-opacity="0.62" stroke-opacity="0.62"/>
<circle cx="396.4" cy="66.8" r="3.55" fill="#4c02a1" stroke="#4c02a1" fill-opacity="0.62" stroke-opacity="0.62"/>
<circle cx="400.0" cy="64.4" r="3.55" fill="#4c02a1" stroke="#4c02a1" fill-opacity="0.62" stroke-opacity="0.62"/>
<circle cx="403.6" cy="66.8" r="3.55" fill="#4c02a1" stroke="#4c02a1" fill-opacity="0.62" stroke-opacity="0.62"/>
<circle cx="407.2" cy="68.0" r="3.55" fill="#4c02a1" stroke="#4c02a1" fill-opacity="0.62" stroke-opacity="0.62"/>
<circle cx="410.8" cy="62.0" r="3.55" fill="#4c02a1" stroke="#4c02a1" fill-opacity="0.62" stroke-opacity="0.62"/>
<circle cx="413.2" cy="65.6" r="3.55" fill="#4c02a1" stroke="#4c02a1" fill-opacity="0.62" stroke-opacity="0.62"/>
<circle cx="416.8" cy="70.4" r="3.55" fill="#4c02a1" stroke="#4c02a1" fill-opacity="0.62" stroke-opacity="0.62"/>
<circle cx="418.0" cy="64.4" r="3.55" fill="#4c02a1" stroke="#4c02a1" fill-opacity="0.62" stroke-opacity="0.62"/>
<circle cx="421.6" cy="60.8" r="3.55" fill="#4c02a1" stroke="#4c02a1" fill-opacity="0.62" stroke-opacity="0.62"/>
<circle cx="422.8" cy="65.6" r="3.55" fill="#4c02a1" stroke="#4c02a1" fill-opacity="0.62" stroke-opacity="0.62"/>
<circle cx="427.7" cy="66.8" r="3.55" fill="#4c02a1" stroke="#4c02a1" fill-opacity="0.62" stroke-opacity="0.62"/>
<circle cx="437.3" cy="65.6" r="3.55" fill="#4c02a1" stroke="#4c02a1" fill-opacity="0.62" stroke-opacity="0.62"/>
<circle cx="440.9" cy="68.0" r="3.55" fill="#4c02a1" stroke="#4c02a1" fill-opacity="0.62" stroke-opacity="0.62"/>
<circle cx="443.3" cy="70.4" r="3.55" fill="#4c02a1" stroke="#4c02a1" fill-opacity="0.62" stroke-opacity="0.62"/>
<circle cx="436.1" cy="72.8" r="3.55" fill="#4c02a1" stroke="#4c02a1" fill-opacity="0.62" stroke-opacity="0.62"/>
<circle cx="380.7" cy="74.0" r="3.55" fill="#4c02a1" stroke="#4c02a1" fill-opacity="0.62" stroke-opacity="0.62"/>
<circle cx="386.7" cy="72.8" r="3.55" fill="#4c02a1" stroke="#4c02a1" fill-opacity="0.62" stroke-opacity="0.62"/>
<circle cx="392.7" cy="75.2" r="3.55" fill="#4c02a1" stroke="#4c02a1" fill-opacity="0.62" stroke-opacity="0.62"/>
<circle cx="397.6" cy="76.4" r="3.55" fill="#4c02a1" stroke="#4c02a1" fill-opacity="0.62" stroke-opacity="0.62"/>
<circle cx="401.2" cy="78.8" r="3.55" fill="#4c02a1" stroke="#4c02a1" fill-opacity="0.62" stroke-opacity="0.62"/>
<circle cx="403.6" cy="78.8" r="3.55" fill="#4c02a1" stroke="#4c02a1" fill-opacity="0.62" stroke-opacity="0.62"/>
<circle cx="400.0" cy="82.5" r="3.55" fill="#4c02a1" stroke="#4c02a1" fill-opacity="0.62" stroke-opacity="0.62"/>
<circle cx="395.1" cy="81.3" r="3.55" fill="#4c02a1" stroke="#4c02a1" fill-opacity="0.62" stroke-opacity="0.62"/>
<circle cx="385.5" cy="84.9" r="3.55" fill="#4c02a1" stroke="#4c02a1" fill-opacity="0.62" stroke-opacity="0.62"/>
<circle cx="389.1" cy="87.3" r="3.55" fill="#4c02a1" stroke="#4c02a1" fill-opacity="0.62" stroke-opacity="0.62"/>
<circle cx="398.8" cy="86.1" r="3.55" fill="#4c02a1" stroke="#4c02a1" fill-opacity="0.62" stroke-opacity="0.62"/>
<circle cx="401.2" cy="90.9" r="3.55" fill="#4c02a1" stroke="#4c02a1" fill-opacity="0.62" stroke-opacity="0.62"/>
<circle cx="392.7" cy="87.3" r="3.55" fill="#4c02a1" stroke="#4c02a1" fill-opacity="0.62" stroke-opacity="0.62"/>
<circle cx="427.7" cy="77.6" r="3.55" fill="#4c02a1" stroke="#4c02a1" fill-opacity="0.62" stroke-opacity="0.62"/>
<circle cx="430.1" cy="80.1" r="3.55" fill="#4c02a1" stroke="#4c02a1" fill-opacity="0.62" stroke-opacity="0.62"/>
<circle cx="433.7" cy="78.8" r="3.55" fill="#4c02a1" stroke="#4c02a1" fill-opacity="0.62" stroke-opacity="0.62"/>
<circle cx="432.5" cy="81.3" r="3.55" fill="#4c02a1" stroke="#4c02a1" fill-opacity="0.62" stroke-opacity="0.62"/>
<circle cx="441.8" cy="25.1" r="3.55" fill="#f48849" stroke="#f48849" fill-opacity="0.55" stroke-opacity="0.55"/>
<circle cx="445.1" cy="23.1" r="3.55" fill="#f48849" stroke="#f48849" fill-opacity="0.55" stroke-opacity="0.55"/>
<circle cx="440.5" cy="29.1" r="3.55" fill="#f48849" stroke="#f48849" fill-opacity="0.55" stroke-opacity="0.55"/>
<circle cx="443.1" cy="29.7" r="3.55" fill="#f48849" stroke="#f48849" fill-opacity="0.55" stroke-opacity="0.55"/>
<circle cx="439.9" cy="33.6" r="3.55" fill="#f48849" stroke="#f48849" fill-opacity="0.55" stroke-opacity="0.55"/>
<circle cx="446.4" cy="31.7" r="3.55" fill="#f48849" stroke="#f48849" fill-opacity="0.55" stroke-opacity="0.55"/>
<circle cx="449.1" cy="29.1" r="3.55" fill="#f48849" stroke="#f48849" fill-opacity="0.55" stroke-opacity="0.55"/>
<circle cx="448.4" cy="33.0" r="3.55" fill="#f48849" stroke="#f48849" fill-opacity="0.55" stroke-opacity="0.55"/>
<circle cx="452.3" cy="27.1" r="3.55" fill="#f48849" stroke="#f48849" fill-opacity="0.55" stroke-opacity="0.55"/>
<circle cx="453.0" cy="35.0" r="3.55" fill="#f48849" stroke="#f48849" fill-opacity="0.55" stroke-opacity="0.55"/>
<circle cx="451.0" cy="31.7" r="3.55" fill="#f48849" stroke="#f48849" fill-opacity="0.55" stroke-opacity="0.55"/>
<circle cx="458.9" cy="29.1" r="3.55" fill="#f48849" stroke="#f48849" fill-opacity="0.55" stroke-opacity="0.55"/>
<circle cx="466.8" cy="21.8" r="3.55" fill="#f48849" stroke="#f48849" fill-opacity="0.55" stroke-opacity="0.55"/>
<circle cx="469.4" cy="20.5" r="3.55" fill="#f48849" stroke="#f48849" fill-opacity="0.55" stroke-opacity="0.55"/>
<circle cx="474.7" cy="20.5" r="3.55" fill="#f48849" stroke="#f48849" fill-opacity="0.55" stroke-opacity="0.55"/>
<circle cx="468.8" cy="24.5" r="3.55" fill="#f48849" stroke="#f48849" fill-opacity="0.55" stroke-opacity="0.55"/>
<circle cx="472.0" cy="28.4" r="3.55" fill="#f48849" stroke="#f48849" fill-opacity="0.55" stroke-opacity="0.55"/>
<circle cx="476.0" cy="27.1" r="3.55" fill="#f48849" stroke="#f48849" fill-opacity="0.55" stroke-opacity="0.55"/>
<circle cx="478.0" cy="29.7" r="3.55" fill="#f48849" stroke="#f48849" fill-opacity="0.55" stroke-opacity="0.55"/>
<circle cx="479.3" cy="31.7" r="3.55" fill="#f48849" stroke="#f48849" fill-opacity="0.55" stroke-opacity="0.55"/>
<circle cx="473.4" cy="33.0" r="3.55" fill="#f48849" stroke="#f48849" fill-opacity="0.55" stroke-opacity="0.55"/>
<circle cx="470.1" cy="31.0" r="3.55" fill="#f48849" stroke="#f48849" fill-opacity="0.55" stroke-opacity="0.55"/>
<circle cx="465.5" cy="36.9" r="3.55" fill="#f48849" stroke="#f48849" fill-opacity="0.55" stroke-opacity="0.55"/>
<circle cx="439.9" cy="44.8" r="3.55" fill="#f48849" stroke="#f48849" fill-opacity="0.55" stroke-opacity="0.55"/>
<circle cx="447.1" cy="50.7" r="3.55" fill="#f48849" stroke="#f48849" fill-opacity="0.55" stroke-opacity="0.55"/>
<circle cx="448.4" cy="45.5" r="3.55" fill="#f48849" stroke="#f48849" fill-opacity="0.55" stroke-opacity="0.55"/>
<circle cx="451.7" cy="46.1" r="3.55" fill="#f48849" stroke="#f48849" fill-opacity="0.55" stroke-opacity="0.55"/>
<circle cx="456.3" cy="47.4" r="3.55" fill="#f48849" stroke="#f48849" fill-opacity="0.55" stroke-opacity="0.55"/>
<circle cx="458.9" cy="45.5" r="3.55" fill="#f48849" stroke="#f48849" fill-opacity="0.55" stroke-opacity="0.55"/>
<circle cx="461.5" cy="50.7" r="3.55" fill="#f48849" stroke="#f48849" fill-opacity="0.55" stroke-opacity="0.55"/>
<circle cx="463.5" cy="44.2" r="3.55" fill="#f48849" stroke="#f48849" fill-opacity="0.55" stroke-opacity="0.55"/>
<circle cx="466.1" cy="42.8" r="3.55" fill="#f48849" stroke="#f48849" fill-opacity="0.55" stroke-opacity="0.55"/>
<circle cx="469.4" cy="40.9" r="3.55" fill="#f48849" stroke="#f48849" fill-opacity="0.55" stroke-opacity="0.55"/>
<circle cx="473.4" cy="41.5" r="3.55" fill="#f48849" stroke="#f48849" fill-opacity="0.55" stroke-opacity="0.55"/>
<circle cx="476.6" cy="43.5" r="3.55" fill="#f48849" stroke="#f48849" fill-opacity="0.55" stroke-opacity="0.55"/>
<circle cx="478.6" cy="44.2" r="3.55" fill="#f48849" stroke="#f48849" fill-opacity="0.55" stroke-opacity="0.55"/>
<circle cx="481.9" cy="43.5" r="3.55" fill="#f48849" stroke="#f48849" fill-opacity="0.55" stroke-opacity="0.55"/>
<circle cx="485.2" cy="42.2" r="3.55" fill="#f48849" stroke="#f48849" fill-opacity="0.55" stroke-opacity="0.55"/>
<circle cx="486.5" cy="36.9" r="3.55" fill="#f48849" stroke="#f48849" fill-opacity="0.55" stroke-opacity="0.55"/>
<circle cx="490.4" cy="32.3" r="3.55" fill="#f48849" stroke="#f48849" fill-opacity="0.55" stroke-opacity="0.55"/>
<circle cx="491.8" cy="36.3" r="3.55" fill="#f48849" stroke="#f48849" fill-opacity="0.55" stroke-opacity="0.55"/>
<circle cx="494.4" cy="35.0" r="3.55" fill="#f48849" stroke="#f48849" fill-opacity="0.55" stroke-opacity="0.55"/>
<circle cx="497.0" cy="38.2" r="3.55" fill="#f48849" stroke="#f48849" fill-opacity="0.55" stroke-opacity="0.55"/>
<circle cx="499.6" cy="33.6" r="3.55" fill="#f48849" stroke="#f48849" fill-opacity="0.55" stroke-opacity="0.55"/>
<circle cx="500.9" cy="36.3" r="3.55" fill="#f48849" stroke="#f48849" fill-opacity="0.55" stroke-opacity="0.55"/>
<circle cx="505.5" cy="38.2" r="3.55" fill="#f48849" stroke="#f48849" fill-opacity="0.55" stroke-opacity="0.55"/>
<circle cx="506.9" cy="28.4" r="3.55" fill="#f48849" stroke="#f48849" fill-opacity="0.55" stroke-opacity="0.55"/>
<circle cx="510.1" cy="31.7" r="3.55" fill="#f48849" stroke="#f48849" fill-opacity="0.55" stroke-opacity="0.55"/>
<circle cx="511.5" cy="35.6" r="3.55" fill="#f48849" stroke="#f48849" fill-opacity="0.55" stroke-opacity="0.55"/>
<circle cx="512.8" cy="37.6" r="3.55" fill="#f48849" stroke="#f48849" fill-opacity="0.55" stroke-opacity="0.55"/>
<circle cx="508.8" cy="42.2" r="3.55" fill="#f48849" stroke="#f48849" fill-opacity="0.55" stroke-opacity="0.55"/>
<circle cx="506.2" cy="42.8" r="3.55" fill="#f48849" stroke="#f48849" fill-opacity="0.55" stroke-opacity="0.55"/>
<circle cx="501.6" cy="41.5" r="3.55" fill="#f48849" stroke="#f48849" fill-opacity="0.55" stroke-opacity="0.55"/>
<circle cx="498.3" cy="44.2" r="3.55" fill="#f48849" stroke="#f48849" fill-opacity="0.55" stroke-opacity="0.55"/>
<circle cx="495.7" cy="43.5" r="3.55" fill="#f48849" stroke="#f48849" fill-opacity="0.55" stroke-opacity="0.55"/>
<circle cx="494.4" cy="46.1" r="3.55" fill="#f48849" stroke="#f48849" fill-opacity="0.55" stroke-opacity="0.55"/>
<circle cx="491.8" cy="49.4" r="3.55" fill="#f48849" stroke="#f48849" fill-opacity="0.55" stroke-opacity="0.55"/>
<circle cx="497.0" cy="48.8" r="3.55" fill="#f48849" stroke="#f48849" fill-opacity="0.55" stroke-opacity="0.55"/>
<circle cx="500.9" cy="49.4" r="3.55" fill="#f48849" stroke="#f48849" fill-opacity="0.55" stroke-opacity="0.55"/>
<circle cx="469.4" cy="49.4" r="3.55" fill="#f48849" stroke="#f48849" fill-opacity="0.55" stroke-opacity="0.55"/>
<circle cx="472.0" cy="52.0" r="3.55" fill="#f48849" stroke="#f48849" fill-opacity="0.55" stroke-opacity="0.55"/>
<circle cx="468.8" cy="55.3" r="3.55" fill="#f48849" stroke="#f48849" fill-opacity="0.55" stroke-opacity="0.55"/>
<circle cx="477.3" cy="57.3" r="3.55" fill="#f48849" stroke="#f48849" fill-opacity="0.55" stroke-opacity="0.55"/>
<circle cx="482.6" cy="52.0" r="3.55" fill="#f48849" stroke="#f48849" fill-opacity="0.55" stroke-opacity="0.55"/>
<circle cx="455.0" cy="59.3" r="3.55" fill="#f48849" stroke="#f48849" fill-opacity="0.55" stroke-opacity="0.55"/>
<circle cx="457.6" cy="60.6" r="3.55" fill="#f48849" stroke="#f48849" fill-opacity="0.55" stroke-opacity="0.55"/>
<circle cx="487.8" cy="40.2" r="3.55" fill="#f48849" stroke="#f48849" fill-opacity="0.55" stroke-opacity="0.55"/>
<circle cx="493.1" cy="40.2" r="3.55" fill="#f48849" stroke="#f48849" fill-opacity="0.55" stroke-opacity="0.55"/>
<circle cx="490.4" cy="42.8" r="3.55" fill="#f48849" stroke="#f48849" fill-opacity="0.55" stroke-opacity="0.55"/>
<circle cx="521.6" cy="57.0" r="3.55" fill="#cb4777" stroke="#cb4777" fill-opacity="0.55" stroke-opacity="0.55"/>
<circle cx="523.8" cy="54.9" r="3.55" fill="#cb4777" stroke="#cb4777" fill-opacity="0.55" stroke-opacity="0.55"/>
<circle cx="525.9" cy="53.8" r="3.55" fill="#cb4777" stroke="#cb4777" fill-opacity="0.55" stroke-opacity="0.55"/>
<circle cx="528.1" cy="53.2" r="3.55" fill="#cb4777" stroke="#cb4777" fill-opacity="0.55" stroke-opacity="0.55"/>
<circle cx="532.5" cy="59.2" r="3.55" fill="#cb4777" stroke="#cb4777" fill-opacity="0.55" stroke-opacity="0.55"/>
<circle cx="535.8" cy="58.1" r="3.55" fill="#cb4777" stroke="#cb4777" fill-opacity="0.55" stroke-opacity="0.55"/>
<circle cx="536.9" cy="61.4" r="3.55" fill="#cb4777" stroke="#cb4777" fill-opacity="0.55" stroke-opacity="0.55"/>
<circle cx="534.7" cy="64.7" r="3.55" fill="#cb4777" stroke="#cb4777" fill-opacity="0.55" stroke-opacity="0.55"/>
<circle cx="538.5" cy="63.6" r="3.55" fill="#cb4777" stroke="#cb4777" fill-opacity="0.55" stroke-opacity="0.55"/>
<circle cx="541.3" cy="64.2" r="3.55" fill="#cb4777" stroke="#cb4777" fill-opacity="0.55" stroke-opacity="0.55"/>
<circle cx="536.9" cy="68.0" r="3.55" fill="#cb4777" stroke="#cb4777" fill-opacity="0.55" stroke-opacity="0.55"/>
<circle cx="535.8" cy="71.3" r="3.55" fill="#cb4777" stroke="#cb4777" fill-opacity="0.55" stroke-opacity="0.55"/>
<circle cx="539.6" cy="70.2" r="3.55" fill="#cb4777" stroke="#cb4777" fill-opacity="0.55" stroke-opacity="0.55"/>
<circle cx="542.4" cy="72.4" r="3.55" fill="#cb4777" stroke="#cb4777" fill-opacity="0.55" stroke-opacity="0.55"/>
<circle cx="547.3" cy="76.2" r="3.55" fill="#cb4777" stroke="#cb4777" fill-opacity="0.55" stroke-opacity="0.55"/>
<circle cx="550.0" cy="58.1" r="3.55" fill="#cb4777" stroke="#cb4777" fill-opacity="0.55" stroke-opacity="0.55"/>
<circle cx="552.2" cy="60.3" r="3.55" fill="#cb4777" stroke="#cb4777" fill-opacity="0.55" stroke-opacity="0.55"/>
<circle cx="559.9" cy="58.1" r="3.55" fill="#cb4777" stroke="#cb4777" fill-opacity="0.55" stroke-opacity="0.55"/>
<circle cx="561.0" cy="61.4" r="3.55" fill="#cb4777" stroke="#cb4777" fill-opacity="0.55" stroke-opacity="0.55"/>
<circle cx="558.2" cy="60.3" r="3.55" fill="#cb4777" stroke="#cb4777" fill-opacity="0.55" stroke-opacity="0.55"/>
<circle cx="551.1" cy="66.9" r="3.55" fill="#cb4777" stroke="#cb4777" fill-opacity="0.55" stroke-opacity="0.55"/>
<circle cx="553.9" cy="68.0" r="3.55" fill="#cb4777" stroke="#cb4777" fill-opacity="0.55" stroke-opacity="0.55"/>
<circle cx="556.1" cy="69.6" r="3.55" fill="#cb4777" stroke="#cb4777" fill-opacity="0.55" stroke-opacity="0.55"/>
<circle cx="552.8" cy="72.9" r="3.55" fill="#cb4777" stroke="#cb4777" fill-opacity="0.55" stroke-opacity="0.55"/>
<circle cx="559.9" cy="71.3" r="3.55" fill="#cb4777" stroke="#cb4777" fill-opacity="0.55" stroke-opacity="0.55"/>
<circle cx="563.2" cy="70.2" r="3.55" fill="#cb4777" stroke="#cb4777" fill-opacity="0.55" stroke-opacity="0.55"/>
<circle cx="566.5" cy="72.4" r="3.55" fill="#cb4777" stroke="#cb4777" fill-opacity="0.55" stroke-opacity="0.55"/>
<circle cx="569.7" cy="68.0" r="3.55" fill="#cb4777" stroke="#cb4777" fill-opacity="0.55" stroke-opacity="0.55"/>
<circle cx="571.9" cy="70.2" r="3.55" fill="#cb4777" stroke="#cb4777" fill-opacity="0.55" stroke-opacity="0.55"/>
<circle cx="564.3" cy="75.7" r="3.55" fill="#cb4777" stroke="#cb4777" fill-opacity="0.55" stroke-opacity="0.55"/>
<circle cx="567.6" cy="76.8" r="3.55" fill="#cb4777" stroke="#cb4777" fill-opacity="0.55" stroke-opacity="0.55"/>
<circle cx="561.0" cy="77.8" r="3.55" fill="#cb4777" stroke="#cb4777" fill-opacity="0.55" stroke-opacity="0.55"/>
<circle cx="557.7" cy="80.0" r="3.55" fill="#cb4777" stroke="#cb4777" fill-opacity="0.55" stroke-opacity="0.55"/>
<circle cx="554.4" cy="81.1" r="3.55" fill="#cb4777" stroke="#cb4777" fill-opacity="0.55" stroke-opacity="0.55"/>
<circle cx="551.1" cy="82.8" r="3.55" fill="#cb4777" stroke="#cb4777" fill-opacity="0.55" stroke-opacity="0.55"/>
<circle cx="547.8" cy="84.4" r="3.55" fill="#cb4777" stroke="#cb4777" fill-opacity="0.55" stroke-opacity="0.55"/>
<circle cx="544.6" cy="86.6" r="3.55" fill="#cb4777" stroke="#cb4777" fill-opacity="0.55" stroke-opacity="0.55"/>
<circle cx="552.2" cy="84.4" r="3.55" fill="#cb4777" stroke="#cb4777" fill-opacity="0.55" stroke-opacity="0.55"/>
<circle cx="562.1" cy="88.8" r="3.55" fill="#cb4777" stroke="#cb4777" fill-opacity="0.55" stroke-opacity="0.55"/>
<circle cx="561.0" cy="91.0" r="3.55" fill="#cb4777" stroke="#cb4777" fill-opacity="0.55" stroke-opacity="0.55"/>
<circle cx="571.9" cy="82.2" r="3.55" fill="#cb4777" stroke="#cb4777" fill-opacity="0.55" stroke-opacity="0.55"/>
<circle cx="568.7" cy="57.0" r="3.55" fill="#cb4777" stroke="#cb4777" fill-opacity="0.55" stroke-opacity="0.55"/>
<circle cx="574.7" cy="54.3" r="3.55" fill="#cb4777" stroke="#cb4777" fill-opacity="0.55" stroke-opacity="0.55"/>
<circle cx="574.7" cy="58.1" r="3.55" fill="#cb4777" stroke="#cb4777" fill-opacity="0.55" stroke-opacity="0.55"/>
<circle cx="576.3" cy="60.3" r="3.55" fill="#cb4777" stroke="#cb4777" fill-opacity="0.55" stroke-opacity="0.55"/>
<circle cx="581.2" cy="57.6" r="3.55" fill="#cb4777" stroke="#cb4777" fill-opacity="0.55" stroke-opacity="0.55"/>
<circle cx="577.4" cy="70.2" r="3.55" fill="#cb4777" stroke="#cb4777" fill-opacity="0.55" stroke-opacity="0.55"/>
<circle cx="584.0" cy="69.6" r="3.55" fill="#cb4777" stroke="#cb4777" fill-opacity="0.55" stroke-opacity="0.55"/>
<circle cx="578.5" cy="73.5" r="3.55" fill="#cb4777" stroke="#cb4777" fill-opacity="0.55" stroke-opacity="0.55"/>
<circle cx="580.7" cy="77.8" r="3.55" fill="#cb4777" stroke="#cb4777" fill-opacity="0.55" stroke-opacity="0.55"/>
<circle cx="576.3" cy="76.8" r="3.55" fill="#cb4777" stroke="#cb4777" fill-opacity="0.55" stroke-opacity="0.55"/>
<circle cx="541.3" cy="94.3" r="3.55" fill="#cb4777" stroke="#cb4777" fill-opacity="0.55" stroke-opacity="0.55"/>
<circle cx="544.6" cy="93.2" r="3.55" fill="#cb4777" stroke="#cb4777" fill-opacity="0.55" stroke-opacity="0.55"/>
<circle cx="546.8" cy="96.5" r="3.55" fill="#cb4777" stroke="#cb4777" fill-opacity="0.55" stroke-opacity="0.55"/>
<circle cx="551.1" cy="96.5" r="3.55" fill="#cb4777" stroke="#cb4777" fill-opacity="0.55" stroke-opacity="0.55"/>
<circle cx="547.8" cy="98.7" r="3.55" fill="#cb4777" stroke="#cb4777" fill-opacity="0.55" stroke-opacity="0.55"/>
<circle cx="552.2" cy="101.9" r="3.55" fill="#cb4777" stroke="#cb4777" fill-opacity="0.55" stroke-opacity="0.55"/>
<circle cx="557.7" cy="105.8" r="3.55" fill="#cb4777" stroke="#cb4777" fill-opacity="0.55" stroke-opacity="0.55"/>
<circle cx="595.0" cy="78.1" r="3.55" fill="#4c02a1" stroke="#4c02a1" fill-opacity="0.62" stroke-opacity="0.62"/>
<circle cx="595.0" cy="82.6" r="3.55" fill="#4c02a1" stroke="#4c02a1" fill-opacity="0.62" stroke-opacity="0.62"/>
<circle cx="589.6" cy="84.4" r="3.55" fill="#4c02a1" stroke="#4c02a1" fill-opacity="0.62" stroke-opacity="0.62"/>
<circle cx="591.4" cy="87.1" r="3.55" fill="#4c02a1" stroke="#4c02a1" fill-opacity="0.62" stroke-opacity="0.62"/>
<circle cx="582.4" cy="90.7" r="3.55" fill="#4c02a1" stroke="#4c02a1" fill-opacity="0.62" stroke-opacity="0.62"/>
<circle cx="586.0" cy="90.7" r="3.55" fill="#4c02a1" stroke="#4c02a1" fill-opacity="0.62" stroke-opacity="0.62"/>
<circle cx="589.6" cy="91.5" r="3.55" fill="#4c02a1" stroke="#4c02a1" fill-opacity="0.62" stroke-opacity="0.62"/>
<circle cx="593.2" cy="92.4" r="3.55" fill="#4c02a1" stroke="#4c02a1" fill-opacity="0.62" stroke-opacity="0.62"/>
<circle cx="595.9" cy="93.3" r="3.55" fill="#4c02a1" stroke="#4c02a1" fill-opacity="0.62" stroke-opacity="0.62"/>
<circle cx="598.6" cy="92.4" r="3.55" fill="#4c02a1" stroke="#4c02a1" fill-opacity="0.62" stroke-opacity="0.62"/>
<circle cx="601.3" cy="93.3" r="3.55" fill="#4c02a1" stroke="#4c02a1" fill-opacity="0.62" stroke-opacity="0.62"/>
<circle cx="604.9" cy="89.8" r="3.55" fill="#4c02a1" stroke="#4c02a1" fill-opacity="0.62" stroke-opacity="0.62"/>
<circle cx="605.8" cy="92.4" r="3.55" fill="#4c02a1" stroke="#4c02a1" fill-opacity="0.62" stroke-opacity="0.62"/>
<circle cx="608.5" cy="96.9" r="3.55" fill="#4c02a1" stroke="#4c02a1" fill-opacity="0.62" stroke-opacity="0.62"/>
<circle cx="592.3" cy="96.0" r="3.55" fill="#4c02a1" stroke="#4c02a1" fill-opacity="0.62" stroke-opacity="0.62"/>
<circle cx="596.8" cy="95.1" r="3.55" fill="#4c02a1" stroke="#4c02a1" fill-opacity="0.62" stroke-opacity="0.62"/>
<circle cx="622.0" cy="105.0" r="3.55" fill="#4c02a1" stroke="#4c02a1" fill-opacity="0.62" stroke-opacity="0.62"/>
<circle cx="624.6" cy="107.7" r="3.55" fill="#4c02a1" stroke="#4c02a1" fill-opacity="0.62" stroke-opacity="0.62"/>
<circle cx="628.2" cy="110.4" r="3.55" fill="#4c02a1" stroke="#4c02a1" fill-opacity="0.62" stroke-opacity="0.62"/>
<circle cx="630.9" cy="113.1" r="3.55" fill="#4c02a1" stroke="#4c02a1" fill-opacity="0.62" stroke-opacity="0.62"/>
<circle cx="632.7" cy="114.9" r="3.55" fill="#4c02a1" stroke="#4c02a1" fill-opacity="0.62" stroke-opacity="0.62"/>
<circle cx="597.7" cy="108.6" r="3.55" fill="#4c02a1" stroke="#4c02a1" fill-opacity="0.62" stroke-opacity="0.62"/>
<circle cx="600.4" cy="106.8" r="3.55" fill="#4c02a1" stroke="#4c02a1" fill-opacity="0.62" stroke-opacity="0.62"/>
<circle cx="601.3" cy="112.2" r="3.55" fill="#4c02a1" stroke="#4c02a1" fill-opacity="0.62" stroke-opacity="0.62"/>
<circle cx="604.0" cy="113.1" r="3.55" fill="#4c02a1" stroke="#4c02a1" fill-opacity="0.62" stroke-opacity="0.62"/>
<circle cx="606.7" cy="114.9" r="3.55" fill="#4c02a1" stroke="#4c02a1" fill-opacity="0.62" stroke-opacity="0.62"/>
<circle cx="608.5" cy="113.1" r="3.55" fill="#4c02a1" stroke="#4c02a1" fill-opacity="0.62" stroke-opacity="0.62"/>
<circle cx="612.1" cy="112.2" r="3.55" fill="#4c02a1" stroke="#4c02a1" fill-opacity="0.62" stroke-opacity="0.62"/>
<circle cx="611.2" cy="116.7" r="3.55" fill="#4c02a1" stroke="#4c02a1" fill-opacity="0.62" stroke-opacity="0.62"/>
<circle cx="615.7" cy="115.8" r="3.55" fill="#4c02a1" stroke="#4c02a1" fill-opacity="0.62" stroke-opacity="0.62"/>
<circle cx="618.4" cy="117.6" r="3.55" fill="#4c02a1" stroke="#4c02a1" fill-opacity="0.62" stroke-opacity="0.62"/>
<circle cx="621.1" cy="117.6" r="3.55" fill="#4c02a1" stroke="#4c02a1" fill-opacity="0.62" stroke-opacity="0.62"/>
<circle cx="588.7" cy="113.1" r="3.55" fill="#4c02a1" stroke="#4c02a1" fill-opacity="0.62" stroke-opacity="0.62"/>
<circle cx="592.3" cy="116.7" r="3.55" fill="#4c02a1" stroke="#4c02a1" fill-opacity="0.62" stroke-opacity="0.62"/>
<circle cx="586.0" cy="123.9" r="3.55" fill="#4c02a1" stroke="#4c02a1" fill-opacity="0.62" stroke-opacity="0.62"/>
<circle cx="589.6" cy="123.9" r="3.55" fill="#4c02a1" stroke="#4c02a1" fill-opacity="0.62" stroke-opacity="0.62"/>
<circle cx="592.3" cy="127.5" r="3.55" fill="#4c02a1" stroke="#4c02a1" fill-opacity="0.62" stroke-opacity="0.62"/>
<circle cx="591.4" cy="132.0" r="3.55" fill="#4c02a1" stroke="#4c02a1" fill-opacity="0.62" stroke-opacity="0.62"/>
<circle cx="598.6" cy="124.8" r="3.55" fill="#4c02a1" stroke="#4c02a1" fill-opacity="0.62" stroke-opacity="0.62"/>
<circle cx="602.2" cy="126.6" r="3.55" fill="#4c02a1" stroke="#4c02a1" fill-opacity="0.62" stroke-opacity="0.62"/>
<circle cx="603.1" cy="123.0" r="3.55" fill="#4c02a1" stroke="#4c02a1" fill-opacity="0.62" stroke-opacity="0.62"/>
<circle cx="601.3" cy="129.3" r="3.55" fill="#4c02a1" stroke="#4c02a1" fill-opacity="0.62" stroke-opacity="0.62"/>
<circle cx="610.3" cy="127.5" r="3.55" fill="#4c02a1" stroke="#4c02a1" fill-opacity="0.62" stroke-opacity="0.62"/>
<circle cx="617.5" cy="129.3" r="3.55" fill="#fca636" stroke="#fca636" fill-opacity="0.55" stroke-opacity="0.55"/>
<circle cx="621.1" cy="130.2" r="3.55" fill="#fca636" stroke="#fca636" fill-opacity="0.55" stroke-opacity="0.55"/>
<circle cx="624.6" cy="131.1" r="3.55" fill="#fca636" stroke="#fca636" fill-opacity="0.55" stroke-opacity="0.55"/>
<circle cx="630.9" cy="122.1" r="3.55" fill="#fca636" stroke="#fca636" fill-opacity="0.55" stroke-opacity="0.55"/>
<circle cx="633.6" cy="121.2" r="3.55" fill="#fca636" stroke="#fca636" fill-opacity="0.55" stroke-opacity="0.55"/>
<circle cx="637.2" cy="123.0" r="3.55" fill="#fca636" stroke="#fca636" fill-opacity="0.55" stroke-opacity="0.55"/>
<circle cx="628.2" cy="129.3" r="3.55" fill="#fca636" stroke="#fca636" fill-opacity="0.55" stroke-opacity="0.55"/>
<circle cx="631.8" cy="129.3" r="3.55" fill="#fca636" stroke="#fca636" fill-opacity="0.55" stroke-opacity="0.55"/>
<circle cx="635.4" cy="131.1" r="3.55" fill="#fca636" stroke="#fca636" fill-opacity="0.55" stroke-opacity="0.55"/>
<circle cx="639.9" cy="131.1" r="3.55" fill="#fca636" stroke="#fca636" fill-opacity="0.55" stroke-opacity="0.55"/>
<circle cx="643.5" cy="130.2" r="3.55" fill="#fca636" stroke="#fca636" fill-opacity="0.55" stroke-opacity="0.55"/>
<circle cx="645.3" cy="132.0" r="3.55" fill="#fca636" stroke="#fca636" fill-opacity="0.55" stroke-opacity="0.55"/>
<circle cx="642.6" cy="134.6" r="3.55" fill="#fca636" stroke="#fca636" fill-opacity="0.55" stroke-opacity="0.55"/>
<circle cx="639.0" cy="136.4" r="3.55" fill="#fca636" stroke="#fca636" fill-opacity="0.55" stroke-opacity="0.55"/>
<circle cx="635.4" cy="134.6" r="3.55" fill="#fca636" stroke="#fca636" fill-opacity="0.55" stroke-opacity="0.55"/>
<circle cx="622.8" cy="137.3" r="3.55" fill="#fca636" stroke="#fca636" fill-opacity="0.55" stroke-opacity="0.55"/>
<circle cx="626.4" cy="138.2" r="3.55" fill="#fca636" stroke="#fca636" fill-opacity="0.55" stroke-opacity="0.55"/>
<circle cx="631.8" cy="140.9" r="3.55" fill="#fca636" stroke="#fca636" fill-opacity="0.55" stroke-opacity="0.55"/>
<circle cx="633.6" cy="145.4" r="3.55" fill="#fca636" stroke="#fca636" fill-opacity="0.55" stroke-opacity="0.55"/>
<circle cx="635.4" cy="149.0" r="3.55" fill="#fca636" stroke="#fca636" fill-opacity="0.55" stroke-opacity="0.55"/>
<circle cx="640.8" cy="145.4" r="3.55" fill="#fca636" stroke="#fca636" fill-opacity="0.55" stroke-opacity="0.55"/>
<circle cx="644.4" cy="141.8" r="3.55" fill="#fca636" stroke="#fca636" fill-opacity="0.55" stroke-opacity="0.55"/>
<circle cx="648.0" cy="139.1" r="3.55" fill="#fca636" stroke="#fca636" fill-opacity="0.55" stroke-opacity="0.55"/>
<circle cx="649.8" cy="143.6" r="3.55" fill="#fca636" stroke="#fca636" fill-opacity="0.55" stroke-opacity="0.55"/>
<circle cx="653.4" cy="147.2" r="3.55" fill="#fca636" stroke="#fca636" fill-opacity="0.55" stroke-opacity="0.55"/>
<circle cx="657.0" cy="145.4" r="3.55" fill="#fca636" stroke="#fca636" fill-opacity="0.55" stroke-opacity="0.55"/>
<circle cx="660.6" cy="149.0" r="3.55" fill="#fca636" stroke="#fca636" fill-opacity="0.55" stroke-opacity="0.55"/>
<circle cx="663.3" cy="150.8" r="3.55" fill="#fca636" stroke="#fca636" fill-opacity="0.55" stroke-opacity="0.55"/>
<circle cx="665.9" cy="152.6" r="3.55" fill="#fca636" stroke="#fca636" fill-opacity="0.55" stroke-opacity="0.55"/>
<circle cx="667.7" cy="155.3" r="3.55" fill="#fca636" stroke="#fca636" fill-opacity="0.55" stroke-opacity="0.55"/>
<circle cx="669.5" cy="158.0" r="3.55" fill="#fca636" stroke="#fca636" fill-opacity="0.55" stroke-opacity="0.55"/>
<circle cx="664.1" cy="154.4" r="3.55" fill="#fca636" stroke="#fca636" fill-opacity="0.55" stroke-opacity="0.55"/>
<circle cx="657.9" cy="154.4" r="3.55" fill="#fca636" stroke="#fca636" fill-opacity="0.55" stroke-opacity="0.55"/>
<circle cx="653.4" cy="154.4" r="3.55" fill="#fca636" stroke="#fca636" fill-opacity="0.55" stroke-opacity="0.55"/>
<circle cx="649.8" cy="152.6" r="3.55" fill="#fca636" stroke="#fca636" fill-opacity="0.55" stroke-opacity="0.55"/>
<circle cx="385.5" cy="92.1" r="3.55" fill="#fdc527" stroke="#fdc527" fill-opacity="0.55" stroke-opacity="0.55"/>
<circle cx="389.1" cy="90.8" r="3.55" fill="#fdc527" stroke="#fdc527" fill-opacity="0.55" stroke-opacity="0.55"/>
<circle cx="395.3" cy="90.3" r="3.55" fill="#fdc527" stroke="#fdc527" fill-opacity="0.55" stroke-opacity="0.55"/>
<circle cx="398.9" cy="91.7" r="3.55" fill="#fdc527" stroke="#fdc527" fill-opacity="0.55" stroke-opacity="0.55"/>
<circle cx="378.4" cy="99.7" r="3.55" fill="#fdc527" stroke="#fdc527" fill-opacity="0.55" stroke-opacity="0.55"/>
<circle cx="381.9" cy="99.3" r="3.55" fill="#fdc527" stroke="#fdc527" fill-opacity="0.55" stroke-opacity="0.55"/>
<circle cx="384.6" cy="97.9" r="3.55" fill="#fdc527" stroke="#fdc527" fill-opacity="0.55" stroke-opacity="0.55"/>
<circle cx="387.3" cy="100.6" r="3.55" fill="#fdc527" stroke="#fdc527" fill-opacity="0.55" stroke-opacity="0.55"/>
<circle cx="389.1" cy="96.6" r="3.55" fill="#fdc527" stroke="#fdc527" fill-opacity="0.55" stroke-opacity="0.55"/>
<circle cx="397.1" cy="99.7" r="3.55" fill="#fdc527" stroke="#fdc527" fill-opacity="0.55" stroke-opacity="0.55"/>
<circle cx="408.7" cy="97.0" r="3.55" fill="#fdc527" stroke="#fdc527" fill-opacity="0.55" stroke-opacity="0.55"/>
<circle cx="394.4" cy="105.5" r="3.55" fill="#fdc527" stroke="#fdc527" fill-opacity="0.55" stroke-opacity="0.55"/>
<circle cx="391.7" cy="107.3" r="3.55" fill="#fdc527" stroke="#fdc527" fill-opacity="0.55" stroke-opacity="0.55"/>
<circle cx="401.1" cy="106.0" r="3.55" fill="#fdc527" stroke="#fdc527" fill-opacity="0.55" stroke-opacity="0.55"/>
<circle cx="389.1" cy="110.0" r="3.55" fill="#fdc527" stroke="#fdc527" fill-opacity="0.55" stroke-opacity="0.55"/>
<circle cx="388.2" cy="113.5" r="3.55" fill="#fdc527" stroke="#fdc527" fill-opacity="0.55" stroke-opacity="0.55"/>
<circle cx="391.7" cy="112.6" r="3.55" fill="#fdc527" stroke="#fdc527" fill-opacity="0.55" stroke-opacity="0.55"/>
<circle cx="394.4" cy="110.9" r="3.55" fill="#fdc527" stroke="#fdc527" fill-opacity="0.55" stroke-opacity="0.55"/>
<circle cx="391.3" cy="121.1" r="3.55" fill="#fdc527" stroke="#fdc527" fill-opacity="0.55" stroke-opacity="0.55"/>
<circle cx="403.3" cy="126.0" r="3.55" fill="#fdc527" stroke="#fdc527" fill-opacity="0.55" stroke-opacity="0.55"/>
<circle cx="406.9" cy="128.7" r="3.55" fill="#fdc527" stroke="#fdc527" fill-opacity="0.55" stroke-opacity="0.55"/>
<circle cx="380.2" cy="132.2" r="3.55" fill="#fdc527" stroke="#fdc527" fill-opacity="0.55" stroke-opacity="0.55"/>
<circle cx="383.7" cy="134.9" r="3.55" fill="#fdc527" stroke="#fdc527" fill-opacity="0.55" stroke-opacity="0.55"/>
<circle cx="387.3" cy="136.7" r="3.55" fill="#fdc527" stroke="#fdc527" fill-opacity="0.55" stroke-opacity="0.55"/>
<circle cx="379.3" cy="138.5" r="3.55" fill="#fdc527" stroke="#fdc527" fill-opacity="0.55" stroke-opacity="0.55"/>
<circle cx="396.2" cy="134.0" r="3.55" fill="#fdc527" stroke="#fdc527" fill-opacity="0.55" stroke-opacity="0.55"/>
<circle cx="396.2" cy="137.6" r="3.55" fill="#fdc527" stroke="#fdc527" fill-opacity="0.55" stroke-opacity="0.55"/>
<circle cx="398.9" cy="139.4" r="3.55" fill="#fdc527" stroke="#fdc527" fill-opacity="0.55" stroke-opacity="0.55"/>
<circle cx="402.4" cy="138.5" r="3.55" fill="#fdc527" stroke="#fdc527" fill-opacity="0.55" stroke-opacity="0.55"/>
<circle cx="406.0" cy="137.6" r="3.55" fill="#fdc527" stroke="#fdc527" fill-opacity="0.55" stroke-opacity="0.55"/>
<circle cx="409.6" cy="138.5" r="3.55" fill="#fdc527" stroke="#fdc527" fill-opacity="0.55" stroke-opacity="0.55"/>
<circle cx="412.2" cy="137.2" r="3.55" fill="#fdc527" stroke="#fdc527" fill-opacity="0.55" stroke-opacity="0.55"/>
<circle cx="398.0" cy="142.9" r="3.55" fill="#fdc527" stroke="#fdc527" fill-opacity="0.55" stroke-opacity="0.55"/>
<circle cx="402.4" cy="144.7" r="3.55" fill="#fdc527" stroke="#fdc527" fill-opacity="0.55" stroke-opacity="0.55"/>
<circle cx="406.0" cy="142.9" r="3.55" fill="#fdc527" stroke="#fdc527" fill-opacity="0.55" stroke-opacity="0.55"/>
<circle cx="404.2" cy="146.5" r="3.55" fill="#fdc527" stroke="#fdc527" fill-opacity="0.55" stroke-opacity="0.55"/>
<circle cx="376.0" cy="158.5" r="3.55" fill="#a92395" stroke="#a92395" fill-opacity="0.58" stroke-opacity="0.58"/>
<circle cx="380.0" cy="159.2" r="3.55" fill="#a92395" stroke="#a92395" fill-opacity="0.58" stroke-opacity="0.58"/>
<circle cx="383.2" cy="155.9" r="3.55" fill="#a92395" stroke="#a92395" fill-opacity="0.58" stroke-opacity="0.58"/>
<circle cx="368.1" cy="167.1" r="3.55" fill="#a92395" stroke="#a92395" fill-opacity="0.58" stroke-opacity="0.58"/>
<circle cx="372.1" cy="167.1" r="3.55" fill="#a92395" stroke="#a92395" fill-opacity="0.58" stroke-opacity="0.58"/>
<circle cx="374.7" cy="168.4" r="3.55" fill="#a92395" stroke="#a92395" fill-opacity="0.58" stroke-opacity="0.58"/>
<circle cx="377.3" cy="169.1" r="3.55" fill="#a92395" stroke="#a92395" fill-opacity="0.58" stroke-opacity="0.58"/>
<circle cx="380.0" cy="168.4" r="3.55" fill="#a92395" stroke="#a92395" fill-opacity="0.58" stroke-opacity="0.58"/>
<circle cx="382.6" cy="169.7" r="3.55" fill="#a92395" stroke="#a92395" fill-opacity="0.58" stroke-opacity="0.58"/>
<circle cx="385.2" cy="171.0" r="3.55" fill="#a92395" stroke="#a92395" fill-opacity="0.58" stroke-opacity="0.58"/>
<circle cx="366.8" cy="175.6" r="3.55" fill="#a92395" stroke="#a92395" fill-opacity="0.58" stroke-opacity="0.58"/>
<circle cx="372.1" cy="177.6" r="3.55" fill="#a92395" stroke="#a92395" fill-opacity="0.58" stroke-opacity="0.58"/>
<circle cx="380.6" cy="177.6" r="3.55" fill="#a92395" stroke="#a92395" fill-opacity="0.58" stroke-opacity="0.58"/>
<circle cx="387.2" cy="163.1" r="3.55" fill="#a92395" stroke="#a92395" fill-opacity="0.58" stroke-opacity="0.58"/>
<circle cx="390.5" cy="162.5" r="3.55" fill="#a92395" stroke="#a92395" fill-opacity="0.58" stroke-opacity="0.58"/>
<circle cx="394.4" cy="161.8" r="3.55" fill="#a92395" stroke="#a92395" fill-opacity="0.58" stroke-opacity="0.58"/>
<circle cx="395.7" cy="153.3" r="3.55" fill="#a92395" stroke="#a92395" fill-opacity="0.58" stroke-opacity="0.58"/>
<circle cx="397.0" cy="157.2" r="3.55" fill="#a92395" stroke="#a92395" fill-opacity="0.58" stroke-opacity="0.58"/>
<circle cx="395.7" cy="164.5" r="3.55" fill="#a92395" stroke="#a92395" fill-opacity="0.58" stroke-opacity="0.58"/>
<circle cx="398.4" cy="160.5" r="3.55" fill="#a92395" stroke="#a92395" fill-opacity="0.58" stroke-opacity="0.58"/>
<circle cx="406.9" cy="158.5" r="3.55" fill="#a92395" stroke="#a92395" fill-opacity="0.58" stroke-opacity="0.58"/>
<circle cx="408.9" cy="163.1" r="3.55" fill="#a92395" stroke="#a92395" fill-opacity="0.58" stroke-opacity="0.58"/>
<circle cx="407.6" cy="167.1" r="3.55" fill="#a92395" stroke="#a92395" fill-opacity="0.58" stroke-opacity="0.58"/>
<circle cx="411.5" cy="161.8" r="3.55" fill="#a92395" stroke="#a92395" fill-opacity="0.58" stroke-opacity="0.58"/>
<circle cx="416.8" cy="159.2" r="3.55" fill="#a92395" stroke="#a92395" fill-opacity="0.58" stroke-opacity="0.58"/>
<circle cx="415.4" cy="164.5" r="3.55" fill="#a92395" stroke="#a92395" fill-opacity="0.58" stroke-opacity="0.58"/>
<circle cx="420.7" cy="165.1" r="3.55" fill="#a92395" stroke="#a92395" fill-opacity="0.58" stroke-opacity="0.58"/>
<circle cx="422.0" cy="171.0" r="3.55" fill="#a92395" stroke="#a92395" fill-opacity="0.58" stroke-opacity="0.58"/>
<circle cx="425.9" cy="172.3" r="3.55" fill="#a92395" stroke="#a92395" fill-opacity="0.58" stroke-opacity="0.58"/>
<circle cx="423.3" cy="173.6" r="3.55" fill="#a92395" stroke="#a92395" fill-opacity="0.58" stroke-opacity="0.58"/>
<circle cx="435.8" cy="171.0" r="3.55" fill="#a92395" stroke="#a92395" fill-opacity="0.58" stroke-opacity="0.58"/>
<circle cx="438.4" cy="173.0" r="3.55" fill="#a92395" stroke="#a92395" fill-opacity="0.58" stroke-opacity="0.58"/>
<circle cx="437.8" cy="175.6" r="3.55" fill="#a92395" stroke="#a92395" fill-opacity="0.58" stroke-opacity="0.58"/>
<circle cx="403.6" cy="178.9" r="3.55" fill="#a92395" stroke="#a92395" fill-opacity="0.58" stroke-opacity="0.58"/>
<circle cx="410.2" cy="175.0" r="3.55" fill="#a92395" stroke="#a92395" fill-opacity="0.58" stroke-opacity="0.58"/>
<circle cx="415.4" cy="177.6" r="3.55" fill="#a92395" stroke="#a92395" fill-opacity="0.58" stroke-opacity="0.58"/>
<circle cx="411.5" cy="180.2" r="3.55" fill="#a92395" stroke="#a92395" fill-opacity="0.58" stroke-opacity="0.58"/>
<circle cx="416.8" cy="181.5" r="3.55" fill="#a92395" stroke="#a92395" fill-opacity="0.58" stroke-opacity="0.58"/>
<circle cx="418.1" cy="178.9" r="3.55" fill="#a92395" stroke="#a92395" fill-opacity="0.58" stroke-opacity="0.58"/>
<circle cx="404.9" cy="188.1" r="3.55" fill="#a92395" stroke="#a92395" fill-opacity="0.58" stroke-opacity="0.58"/>
<circle cx="408.9" cy="189.4" r="3.55" fill="#a92395" stroke="#a92395" fill-opacity="0.58" stroke-opacity="0.58"/>
<circle cx="412.8" cy="193.4" r="3.55" fill="#a92395" stroke="#a92395" fill-opacity="0.58" stroke-opacity="0.58"/>
<circle cx="415.4" cy="194.7" r="3.55" fill="#a92395" stroke="#a92395" fill-opacity="0.58" stroke-opacity="0.58"/>
<circle cx="420.7" cy="192.0" r="3.55" fill="#a92395" stroke="#a92395" fill-opacity="0.58" stroke-opacity="0.58"/>
<circle cx="419.4" cy="188.1" r="3.55" fill="#a92395" stroke="#a92395" fill-opacity="0.58" stroke-opacity="0.58"/>
<circle cx="411.5" cy="196.0" r="3.55" fill="#a92395" stroke="#a92395" fill-opacity="0.58" stroke-opacity="0.58"/>
<circle cx="415.4" cy="197.3" r="3.55" fill="#a92395" stroke="#a92395" fill-opacity="0.58" stroke-opacity="0.58"/>
<circle cx="385.9" cy="190.7" r="3.55" fill="#a92395" stroke="#a92395" fill-opacity="0.58" stroke-opacity="0.58"/>
<circle cx="389.2" cy="191.4" r="3.55" fill="#a92395" stroke="#a92395" fill-opacity="0.58" stroke-opacity="0.58"/>
<circle cx="393.1" cy="192.0" r="3.55" fill="#a92395" stroke="#a92395" fill-opacity="0.58" stroke-opacity="0.58"/>
<circle cx="395.7" cy="194.7" r="3.55" fill="#a92395" stroke="#a92395" fill-opacity="0.58" stroke-opacity="0.58"/>
<circle cx="391.8" cy="200.6" r="3.55" fill="#a92395" stroke="#a92395" fill-opacity="0.58" stroke-opacity="0.58"/>
<circle cx="394.4" cy="201.9" r="3.55" fill="#a92395" stroke="#a92395" fill-opacity="0.58" stroke-opacity="0.58"/>
<circle cx="398.4" cy="201.2" r="3.55" fill="#a92395" stroke="#a92395" fill-opacity="0.58" stroke-opacity="0.58"/>
<circle cx="402.3" cy="202.6" r="3.55" fill="#a92395" stroke="#a92395" fill-opacity="0.58" stroke-opacity="0.58"/>
<circle cx="406.2" cy="203.9" r="3.55" fill="#a92395" stroke="#a92395" fill-opacity="0.58" stroke-opacity="0.58"/>
<circle cx="397.0" cy="211.8" r="3.55" fill="#a92395" stroke="#a92395" fill-opacity="0.58" stroke-opacity="0.58"/>
<circle cx="449.7" cy="181.2" r="3.55" fill="#8606a6" stroke="#8606a6" fill-opacity="0.6" stroke-opacity="0.6"/>
<circle cx="449.7" cy="191.8" r="3.55" fill="#8606a6" stroke="#8606a6" fill-opacity="0.6" stroke-opacity="0.6"/>
<circle cx="452.2" cy="194.9" r="3.55" fill="#8606a6" stroke="#8606a6" fill-opacity="0.6" stroke-opacity="0.6"/>
<circle cx="454.7" cy="193.6" r="3.55" fill="#8606a6" stroke="#8606a6" fill-opacity="0.6" stroke-opacity="0.6"/>
<circle cx="457.8" cy="192.4" r="3.55" fill="#8606a6" stroke="#8606a6" fill-opacity="0.6" stroke-opacity="0.6"/>
<circle cx="460.9" cy="189.9" r="3.55" fill="#8606a6" stroke="#8606a6" fill-opacity="0.6" stroke-opacity="0.6"/>
<circle cx="463.4" cy="192.4" r="3.55" fill="#8606a6" stroke="#8606a6" fill-opacity="0.6" stroke-opacity="0.6"/>
<circle cx="467.1" cy="194.2" r="3.55" fill="#8606a6" stroke="#8606a6" fill-opacity="0.6" stroke-opacity="0.6"/>
<circle cx="452.2" cy="198.0" r="3.55" fill="#8606a6" stroke="#8606a6" fill-opacity="0.6" stroke-opacity="0.6"/>
<circle cx="455.9" cy="198.6" r="3.55" fill="#8606a6" stroke="#8606a6" fill-opacity="0.6" stroke-opacity="0.6"/>
<circle cx="459.7" cy="198.0" r="3.55" fill="#8606a6" stroke="#8606a6" fill-opacity="0.6" stroke-opacity="0.6"/>
<circle cx="462.8" cy="199.8" r="3.55" fill="#8606a6" stroke="#8606a6" fill-opacity="0.6" stroke-opacity="0.6"/>
<circle cx="457.8" cy="203.5" r="3.55" fill="#8606a6" stroke="#8606a6" fill-opacity="0.6" stroke-opacity="0.6"/>
<circle cx="459.7" cy="201.1" r="3.55" fill="#8606a6" stroke="#8606a6" fill-opacity="0.6" stroke-opacity="0.6"/>
<circle cx="473.3" cy="196.1" r="3.55" fill="#8606a6" stroke="#8606a6" fill-opacity="0.6" stroke-opacity="0.6"/>
<circle cx="471.5" cy="199.8" r="3.55" fill="#8606a6" stroke="#8606a6" fill-opacity="0.6" stroke-opacity="0.6"/>
<circle cx="474.6" cy="201.1" r="3.55" fill="#8606a6" stroke="#8606a6" fill-opacity="0.6" stroke-opacity="0.6"/>
<circle cx="477.0" cy="203.5" r="3.55" fill="#8606a6" stroke="#8606a6" fill-opacity="0.6" stroke-opacity="0.6"/>
<circle cx="473.3" cy="206.6" r="3.55" fill="#8606a6" stroke="#8606a6" fill-opacity="0.6" stroke-opacity="0.6"/>
<circle cx="479.5" cy="199.8" r="3.55" fill="#8606a6" stroke="#8606a6" fill-opacity="0.6" stroke-opacity="0.6"/>
<circle cx="482.6" cy="201.7" r="3.55" fill="#8606a6" stroke="#8606a6" fill-opacity="0.6" stroke-opacity="0.6"/>
<circle cx="486.3" cy="199.2" r="3.55" fill="#8606a6" stroke="#8606a6" fill-opacity="0.6" stroke-opacity="0.6"/>
<circle cx="484.5" cy="204.8" r="3.55" fill="#8606a6" stroke="#8606a6" fill-opacity="0.6" stroke-opacity="0.6"/>
<circle cx="487.0" cy="211.0" r="3.55" fill="#8606a6" stroke="#8606a6" fill-opacity="0.6" stroke-opacity="0.6"/>
<circle cx="480.8" cy="202.9" r="3.55" fill="#8606a6" stroke="#8606a6" fill-opacity="0.6" stroke-opacity="0.6"/>
<circle cx="422.4" cy="206.0" r="3.55" fill="#8606a6" stroke="#8606a6" fill-opacity="0.6" stroke-opacity="0.6"/>
<circle cx="428.6" cy="204.2" r="3.55" fill="#8606a6" stroke="#8606a6" fill-opacity="0.6" stroke-opacity="0.6"/>
<circle cx="431.1" cy="204.8" r="3.55" fill="#8606a6" stroke="#8606a6" fill-opacity="0.6" stroke-opacity="0.6"/>
<circle cx="426.2" cy="209.7" r="3.55" fill="#8606a6" stroke="#8606a6" fill-opacity="0.6" stroke-opacity="0.6"/>
<circle cx="429.9" cy="212.2" r="3.55" fill="#8606a6" stroke="#8606a6" fill-opacity="0.6" stroke-opacity="0.6"/>
<circle cx="433.6" cy="212.2" r="3.55" fill="#8606a6" stroke="#8606a6" fill-opacity="0.6" stroke-opacity="0.6"/>
<circle cx="434.2" cy="214.7" r="3.55" fill="#8606a6" stroke="#8606a6" fill-opacity="0.6" stroke-opacity="0.6"/>
<circle cx="422.4" cy="217.2" r="3.55" fill="#8606a6" stroke="#8606a6" fill-opacity="0.6" stroke-opacity="0.6"/>
<circle cx="425.5" cy="216.6" r="3.55" fill="#8606a6" stroke="#8606a6" fill-opacity="0.6" stroke-opacity="0.6"/>
<circle cx="429.9" cy="215.9" r="3.55" fill="#8606a6" stroke="#8606a6" fill-opacity="0.6" stroke-opacity="0.6"/>
<circle cx="432.4" cy="218.4" r="3.55" fill="#8606a6" stroke="#8606a6" fill-opacity="0.6" stroke-opacity="0.6"/>
<circle cx="435.5" cy="219.7" r="3.55" fill="#8606a6" stroke="#8606a6" fill-opacity="0.6" stroke-opacity="0.6"/>
<circle cx="437.3" cy="222.2" r="3.55" fill="#8606a6" stroke="#8606a6" fill-opacity="0.6" stroke-opacity="0.6"/>
<circle cx="441.1" cy="223.4" r="3.55" fill="#8606a6" stroke="#8606a6" fill-opacity="0.6" stroke-opacity="0.6"/>
<circle cx="422.4" cy="222.2" r="3.55" fill="#8606a6" stroke="#8606a6" fill-opacity="0.6" stroke-opacity="0.6"/>
<circle cx="426.2" cy="223.4" r="3.55" fill="#8606a6" stroke="#8606a6" fill-opacity="0.6" stroke-opacity="0.6"/>
<circle cx="447.3" cy="227.1" r="3.55" fill="#8606a6" stroke="#8606a6" fill-opacity="0.6" stroke-opacity="0.6"/>
<circle cx="452.2" cy="224.6" r="3.55" fill="#8606a6" stroke="#8606a6" fill-opacity="0.6" stroke-opacity="0.6"/>
<circle cx="459.7" cy="223.4" r="3.55" fill="#8606a6" stroke="#8606a6" fill-opacity="0.6" stroke-opacity="0.6"/>
<circle cx="455.9" cy="227.1" r="3.55" fill="#8606a6" stroke="#8606a6" fill-opacity="0.6" stroke-opacity="0.6"/>
<circle cx="449.7" cy="229.6" r="3.55" fill="#8606a6" stroke="#8606a6" fill-opacity="0.6" stroke-opacity="0.6"/>
<circle cx="453.5" cy="230.8" r="3.55" fill="#8606a6" stroke="#8606a6" fill-opacity="0.6" stroke-opacity="0.6"/>
<circle cx="458.4" cy="229.6" r="3.55" fill="#8606a6" stroke="#8606a6" fill-opacity="0.6" stroke-opacity="0.6"/>
<circle cx="462.2" cy="230.8" r="3.55" fill="#8606a6" stroke="#8606a6" fill-opacity="0.6" stroke-opacity="0.6"/>
<circle cx="465.9" cy="229.6" r="3.55" fill="#8606a6" stroke="#8606a6" fill-opacity="0.6" stroke-opacity="0.6"/>
<circle cx="467.1" cy="233.3" r="3.55" fill="#8606a6" stroke="#8606a6" fill-opacity="0.6" stroke-opacity="0.6"/>
<circle cx="460.9" cy="233.3" r="3.55" fill="#8606a6" stroke="#8606a6" fill-opacity="0.6" stroke-opacity="0.6"/>
<circle cx="446.0" cy="234.6" r="3.55" fill="#8606a6" stroke="#8606a6" fill-opacity="0.6" stroke-opacity="0.6"/>
<circle cx="453.5" cy="238.3" r="3.55" fill="#8606a6" stroke="#8606a6" fill-opacity="0.6" stroke-opacity="0.6"/>
<circle cx="499.1" cy="213.1" r="3.55" fill="#e3646a" stroke="#e3646a" fill-opacity="0.55" stroke-opacity="0.55"/>
<circle cx="505.0" cy="209.2" r="3.55" fill="#e3646a" stroke="#e3646a" fill-opacity="0.55" stroke-opacity="0.55"/>
<circle cx="503.0" cy="215.8" r="3.55" fill="#e3646a" stroke="#e3646a" fill-opacity="0.55" stroke-opacity="0.55"/>
<circle cx="506.3" cy="214.5" r="3.55" fill="#e3646a" stroke="#e3646a" fill-opacity="0.55" stroke-opacity="0.55"/>
<circle cx="508.2" cy="217.1" r="3.55" fill="#e3646a" stroke="#e3646a" fill-opacity="0.55" stroke-opacity="0.55"/>
<circle cx="511.5" cy="214.5" r="3.55" fill="#e3646a" stroke="#e3646a" fill-opacity="0.55" stroke-opacity="0.55"/>
<circle cx="514.2" cy="215.8" r="3.55" fill="#e3646a" stroke="#e3646a" fill-opacity="0.55" stroke-opacity="0.55"/>
<circle cx="514.8" cy="218.4" r="3.55" fill="#e3646a" stroke="#e3646a" fill-opacity="0.55" stroke-opacity="0.55"/>
<circle cx="511.5" cy="220.4" r="3.55" fill="#e3646a" stroke="#e3646a" fill-opacity="0.55" stroke-opacity="0.55"/>
<circle cx="504.3" cy="219.1" r="3.55" fill="#e3646a" stroke="#e3646a" fill-opacity="0.55" stroke-opacity="0.55"/>
<circle cx="499.7" cy="226.9" r="3.55" fill="#e3646a" stroke="#e3646a" fill-opacity="0.55" stroke-opacity="0.55"/>
<circle cx="503.6" cy="226.3" r="3.55" fill="#e3646a" stroke="#e3646a" fill-opacity="0.55" stroke-opacity="0.55"/>
<circle cx="501.0" cy="229.6" r="3.55" fill="#e3646a" stroke="#e3646a" fill-opacity="0.55" stroke-opacity="0.55"/>
<circle cx="505.0" cy="231.5" r="3.55" fill="#e3646a" stroke="#e3646a" fill-opacity="0.55" stroke-opacity="0.55"/>
<circle cx="508.2" cy="234.8" r="3.55" fill="#e3646a" stroke="#e3646a" fill-opacity="0.55" stroke-opacity="0.55"/>
<circle cx="511.5" cy="234.8" r="3.55" fill="#e3646a" stroke="#e3646a" fill-opacity="0.55" stroke-opacity="0.55"/>
<circle cx="494.5" cy="235.5" r="3.55" fill="#e3646a" stroke="#e3646a" fill-opacity="0.55" stroke-opacity="0.55"/>
<circle cx="495.8" cy="238.1" r="3.55" fill="#e3646a" stroke="#e3646a" fill-opacity="0.55" stroke-opacity="0.55"/>
<circle cx="493.1" cy="239.4" r="3.55" fill="#e3646a" stroke="#e3646a" fill-opacity="0.55" stroke-opacity="0.55"/>
<circle cx="497.7" cy="241.4" r="3.55" fill="#e3646a" stroke="#e3646a" fill-opacity="0.55" stroke-opacity="0.55"/>
<circle cx="505.0" cy="240.7" r="3.55" fill="#e3646a" stroke="#e3646a" fill-opacity="0.55" stroke-opacity="0.55"/>
<circle cx="512.2" cy="244.7" r="3.55" fill="#e3646a" stroke="#e3646a" fill-opacity="0.55" stroke-opacity="0.55"/>
<circle cx="516.8" cy="242.7" r="3.55" fill="#e3646a" stroke="#e3646a" fill-opacity="0.55" stroke-opacity="0.55"/>
<circle cx="520.7" cy="242.0" r="3.55" fill="#e3646a" stroke="#e3646a" fill-opacity="0.55" stroke-opacity="0.55"/>
<circle cx="523.4" cy="243.4" r="3.55" fill="#e3646a" stroke="#e3646a" fill-opacity="0.55" stroke-opacity="0.55"/>
<circle cx="526.0" cy="242.0" r="3.55" fill="#e3646a" stroke="#e3646a" fill-opacity="0.55" stroke-opacity="0.55"/>
<circle cx="531.2" cy="243.4" r="3.55" fill="#e3646a" stroke="#e3646a" fill-opacity="0.55" stroke-opacity="0.55"/>
<circle cx="535.2" cy="244.7" r="3.55" fill="#e3646a" stroke="#e3646a" fill-opacity="0.55" stroke-opacity="0.55"/>
<circle cx="523.4" cy="249.3" r="3.55" fill="#e3646a" stroke="#e3646a" fill-opacity="0.55" stroke-opacity="0.55"/>
<circle cx="526.0" cy="251.2" r="3.55" fill="#e3646a" stroke="#e3646a" fill-opacity="0.55" stroke-opacity="0.55"/>
<circle cx="528.6" cy="249.9" r="3.55" fill="#e3646a" stroke="#e3646a" fill-opacity="0.55" stroke-opacity="0.55"/>
<circle cx="528.0" cy="256.5" r="3.55" fill="#e3646a" stroke="#e3646a" fill-opacity="0.55" stroke-opacity="0.55"/>
<circle cx="531.9" cy="245.3" r="3.55" fill="#e3646a" stroke="#e3646a" fill-opacity="0.55" stroke-opacity="0.55"/>
<circle cx="537.8" cy="249.3" r="3.55" fill="#e3646a" stroke="#e3646a" fill-opacity="0.55" stroke-opacity="0.55"/>
<circle cx="541.8" cy="249.9" r="3.55" fill="#e3646a" stroke="#e3646a" fill-opacity="0.55" stroke-opacity="0.55"/>
<circle cx="544.4" cy="252.6" r="3.55" fill="#e3646a" stroke="#e3646a" fill-opacity="0.55" stroke-opacity="0.55"/>
<circle cx="547.0" cy="255.2" r="3.55" fill="#e3646a" stroke="#e3646a" fill-opacity="0.55" stroke-opacity="0.55"/>
<circle cx="549.6" cy="253.9" r="3.55" fill="#e3646a" stroke="#e3646a" fill-opacity="0.55" stroke-opacity="0.55"/>
<circle cx="550.9" cy="257.8" r="3.55" fill="#e3646a" stroke="#e3646a" fill-opacity="0.55" stroke-opacity="0.55"/>
<circle cx="545.7" cy="259.1" r="3.55" fill="#e3646a" stroke="#e3646a" fill-opacity="0.55" stroke-opacity="0.55"/>
<circle cx="550.9" cy="246.0" r="3.55" fill="#e3646a" stroke="#e3646a" fill-opacity="0.55" stroke-opacity="0.55"/>
<circle cx="554.2" cy="246.6" r="3.55" fill="#e3646a" stroke="#e3646a" fill-opacity="0.55" stroke-opacity="0.55"/>
<circle cx="557.5" cy="245.3" r="3.55" fill="#e3646a" stroke="#e3646a" fill-opacity="0.55" stroke-opacity="0.55"/>
<circle cx="560.1" cy="245.3" r="3.55" fill="#e3646a" stroke="#e3646a" fill-opacity="0.55" stroke-opacity="0.55"/>
<circle cx="562.8" cy="246.0" r="3.55" fill="#e3646a" stroke="#e3646a" fill-opacity="0.55" stroke-opacity="0.55"/>
<circle cx="553.6" cy="249.9" r="3.55" fill="#e3646a" stroke="#e3646a" fill-opacity="0.55" stroke-opacity="0.55"/>
<circle cx="489.9" cy="248.0" r="3.55" fill="#e3646a" stroke="#e3646a" fill-opacity="0.55" stroke-opacity="0.55"/>
</g>
<rect x="352.6" y="9.3" width="330.6" height="262.5" fill="none" stroke="#111" stroke-width="1"/>
<rect x="667.5" y="15.3" width="9.7" height="9.2" rx="1.8" fill="#fff" fill-opacity="0.8" stroke="#ccc" stroke-width="0.8"/>
<line x1="348.6" y1="24.90" x2="352.6" y2="24.90" stroke="#111" stroke-width="1"/>
<text x="329.32" y="29.10" font-size="11.6" font-weight="normal" fill="#111" textLength="14.49" lengthAdjust="spacingAndGlyphs">40</text>
<line x1="348.6" y1="75.40" x2="352.6" y2="75.40" stroke="#111" stroke-width="1"/>
<text x="328.91" y="79.60" font-size="11.6" font-weight="normal" fill="#111" textLength="14.92" lengthAdjust="spacingAndGlyphs">20</text>
<line x1="348.6" y1="125.90" x2="352.6" y2="125.90" stroke="#111" stroke-width="1"/>
<text x="336.38" y="130.10" font-size="11.6" font-weight="normal" fill="#111" textLength="7.44" lengthAdjust="spacingAndGlyphs">0</text>
<line x1="348.6" y1="176.40" x2="352.6" y2="176.40" stroke="#111" stroke-width="1"/>
<text x="319.01" y="180.60" font-size="11.6" font-weight="normal" fill="#111" textLength="24.83" lengthAdjust="spacingAndGlyphs">−20</text>
<line x1="348.6" y1="226.90" x2="352.6" y2="226.90" stroke="#111" stroke-width="1"/>
<text x="319.01" y="231.10" font-size="11.6" font-weight="normal" fill="#111" textLength="24.83" lengthAdjust="spacingAndGlyphs">−40</text>
<line x1="369.50" y1="271.8" x2="369.50" y2="276.2" stroke="#111" stroke-width="1"/>
<text x="356.11" y="289.00" font-size="11.6" font-weight="normal" fill="#111" textLength="24.83" lengthAdjust="spacingAndGlyphs">−40</text>
<line x1="428.30" y1="271.8" x2="428.30" y2="276.2" stroke="#111" stroke-width="1"/>
<text x="414.91" y="289.00" font-size="11.6" font-weight="normal" fill="#111" textLength="24.83" lengthAdjust="spacingAndGlyphs">−20</text>
<line x1="487.10" y1="271.8" x2="487.10" y2="276.2" stroke="#111" stroke-width="1"/>
<text x="483.38" y="289.00" font-size="11.6" font-weight="normal" fill="#111" textLength="7.44" lengthAdjust="spacingAndGlyphs">0</text>
<line x1="545.90" y1="271.8" x2="545.90" y2="276.2" stroke="#111" stroke-width="1"/>
<text x="538.36" y="289.00" font-size="11.6" font-weight="normal" fill="#111" textLength="14.92" lengthAdjust="spacingAndGlyphs">20</text>
<line x1="604.70" y1="271.8" x2="604.70" y2="276.2" stroke="#111" stroke-width="1"/>
<text x="597.57" y="289.00" font-size="11.6" font-weight="normal" fill="#111" textLength="14.49" lengthAdjust="spacingAndGlyphs">40</text>
<line x1="663.50" y1="271.8" x2="663.50" y2="276.2" stroke="#111" stroke-width="1"/>
<text x="655.96" y="289.00" font-size="11.6" font-weight="normal" fill="#111" textLength="14.92" lengthAdjust="spacingAndGlyphs">60</text>
<text x="564.08" y="151.00" font-size="15" font-weight="normal" fill="#111" textLength="100.69" lengthAdjust="spacingAndGlyphs" stroke="#111" stroke-width="0.12">temozolomide</text>
<text x="404.88" y="189.60" font-size="15" font-weight="normal" fill="#111" textLength="70.70" lengthAdjust="spacingAndGlyphs" stroke="#111" stroke-width="0.12">lovastatin</text>
<text x="516.53" y="238.70" font-size="14" font-weight="normal" fill="#111" textLength="81.05" lengthAdjust="spacingAndGlyphs" stroke="#111" stroke-width="0.12">1S3R-RSL-3</text>
<text x="453.75" y="266.40" font-size="15" font-weight="normal" fill="#111" textLength="64.95" lengthAdjust="spacingAndGlyphs" stroke="#111" stroke-width="0.12">dasatinib</text>
<path d="M410.6,195.4 L396.6,200.0 M401.0,195.5 L396.6,200.0 L402.8,201.0" fill="none" stroke="#111" stroke-width="1.3" stroke-linejoin="miter"/>
<path d="M543.4,245.5 L531.0,254.6 M533.8,248.9 L531.0,254.6 L537.2,253.6" fill="none" stroke="#111" stroke-width="1.3" stroke-linejoin="miter"/>
<path d="M627.6,137.2 L631.4,134.7 M628.3,140.2 L631.4,134.7 L625.1,135.3" fill="none" stroke="#111" stroke-width="1.3" stroke-linejoin="miter"/>
<path d="M488.3,255.5 L489.3,249.9 M491.2,255.9 L489.3,249.9 L485.5,254.9" fill="none" stroke="#111" stroke-width="1.3" stroke-linejoin="miter"/>
<text x="66.36" y="334.90" font-size="14.5" font-weight="bold" fill="#000" textLength="7.95" lengthAdjust="spacingAndGlyphs">c</text>
<line x1="101.3" y1="369.0" x2="101.3" y2="489.8" stroke="#111" stroke-width="1.3"/>
<line x1="95.39999999999999" y1="483.6" x2="234.29999999999998" y2="483.6" stroke="#111" stroke-width="1.3"/>
<line x1="95.39999999999999" y1="369.60" x2="101.3" y2="369.60" stroke="#111" stroke-width="1.3"/>
<text x="94.0" y="373.40" font-size="10.6" font-weight="bold" text-anchor="end" fill="#111">8</text>
<line x1="95.39999999999999" y1="392.40" x2="101.3" y2="392.40" stroke="#111" stroke-width="1.3"/>
<text x="94.0" y="396.20" font-size="10.6" font-weight="bold" text-anchor="end" fill="#111">6</text>
<line x1="95.39999999999999" y1="415.20" x2="101.3" y2="415.20" stroke="#111" stroke-width="1.3"/>
<text x="94.0" y="419.00" font-size="10.6" font-weight="bold" text-anchor="end" fill="#111">4</text>
<line x1="95.39999999999999" y1="438.00" x2="101.3" y2="438.00" stroke="#111" stroke-width="1.3"/>
<text x="94.0" y="441.80" font-size="10.6" font-weight="bold" text-anchor="end" fill="#111">2</text>
<line x1="95.39999999999999" y1="460.80" x2="101.3" y2="460.80" stroke="#111" stroke-width="1.3"/>
<text x="94.0" y="464.60" font-size="10.6" font-weight="bold" text-anchor="end" fill="#111">0</text>
<text x="94.0" y="487.40" font-size="10.6" font-weight="bold" text-anchor="end" fill="#111">-2</text>
<line x1="101.30" y1="483.6" x2="101.30" y2="489.8" stroke="#111" stroke-width="1.3"/>
<text x="101.30" y="501.6" font-size="10.6" font-weight="bold" text-anchor="middle" fill="#111">0</text>
<line x1="134.40" y1="483.6" x2="134.40" y2="489.8" stroke="#111" stroke-width="1.3"/>
<text x="134.40" y="501.6" font-size="10.6" font-weight="bold" text-anchor="middle" fill="#111">5</text>
<line x1="167.50" y1="483.6" x2="167.50" y2="489.8" stroke="#111" stroke-width="1.3"/>
<text x="167.50" y="501.6" font-size="10.6" font-weight="bold" text-anchor="middle" fill="#111">10</text>
<line x1="200.60" y1="483.6" x2="200.60" y2="489.8" stroke="#111" stroke-width="1.3"/>
<text x="200.60" y="501.6" font-size="10.6" font-weight="bold" text-anchor="middle" fill="#111">15</text>
<line x1="233.70" y1="483.6" x2="233.70" y2="489.8" stroke="#111" stroke-width="1.3"/>
<text x="233.70" y="501.6" font-size="10.6" font-weight="bold" text-anchor="middle" fill="#111">20</text>
<line x1="105.3" y1="460.80" x2="233.7" y2="460.80" stroke="#000" stroke-width="1.4" stroke-dasharray="1.4 2.6"/>
<circle cx="137.9" cy="468.8" r="4.2" fill="#f88010"/>
<circle cx="158.2" cy="409.9" r="4.2" fill="#5aa2f8"/>
<circle cx="180.3" cy="404.7" r="4.2" fill="#ee3f48"/>
<circle cx="200.5" cy="386.3" r="4.2" fill="#5e5e5e"/>
<text x="105.74" y="337.60" font-size="14.5" font-weight="bold" fill="#111" textLength="134.49" lengthAdjust="spacingAndGlyphs">Giant Cell GBM (IV)</text>
<text x="142.29" y="358.70" font-size="12.5" font-weight="bold" fill="#111" textLength="50.50" lengthAdjust="spacingAndGlyphs">3199-HS</text>
<text x="178.00" y="475.80" font-size="14.8" font-weight="bold" fill="#4f4f4f">R<tspan font-size="9.6" dy="-5.6">2</tspan><tspan dy="5.6">=0.83</tspan></text>
<text x="155.74" y="518.70" font-size="12" font-weight="bold" fill="#111" textLength="22.93" lengthAdjust="spacingAndGlyphs" stroke="#111" stroke-width="0.3">AUC</text>
<g transform="translate(77.2,472.8) rotate(-90)"><text x="-0.83" y="0" font-size="11.7" font-weight="bold" fill="#111" textLength="95.25" lengthAdjust="spacingAndGlyphs">Log<tspan font-size="8.2" dy="2.6">2</tspan><tspan dy="-2.6">Viability (%)</tspan></text></g>
<line x1="301.3" y1="365.79999999999995" x2="301.3" y2="488.7" stroke="#111" stroke-width="1.3"/>
<line x1="295.40000000000003" y1="482.5" x2="437.1" y2="482.5" stroke="#111" stroke-width="1.3"/>
<line x1="295.40000000000003" y1="366.40" x2="301.3" y2="366.40" stroke="#111" stroke-width="1.3"/>
<text x="294.0" y="370.20" font-size="10.6" font-weight="bold" text-anchor="end" fill="#111">8</text>
<line x1="295.40000000000003" y1="395.42" x2="301.3" y2="395.42" stroke="#111" stroke-width="1.3"/>
<text x="294.0" y="399.22" font-size="10.6" font-weight="bold" text-anchor="end" fill="#111">6</text>
<line x1="295.40000000000003" y1="424.45" x2="301.3" y2="424.45" stroke="#111" stroke-width="1.3"/>
<text x="294.0" y="428.25" font-size="10.6" font-weight="bold" text-anchor="end" fill="#111">4</text>
<line x1="295.40000000000003" y1="453.48" x2="301.3" y2="453.48" stroke="#111" stroke-width="1.3"/>
<text x="294.0" y="457.28" font-size="10.6" font-weight="bold" text-anchor="end" fill="#111">2</text>
<text x="294.0" y="486.30" font-size="10.6" font-weight="bold" text-anchor="end" fill="#111">0</text>
<line x1="301.30" y1="482.5" x2="301.30" y2="488.7" stroke="#111" stroke-width="1.3"/>
<text x="301.30" y="500.8" font-size="10.6" font-weight="bold" text-anchor="middle" fill="#111">0</text>
<line x1="335.10" y1="482.5" x2="335.10" y2="488.7" stroke="#111" stroke-width="1.3"/>
<text x="335.10" y="500.8" font-size="10.6" font-weight="bold" text-anchor="middle" fill="#111">5</text>
<line x1="368.90" y1="482.5" x2="368.90" y2="488.7" stroke="#111" stroke-width="1.3"/>
<text x="368.90" y="500.8" font-size="10.6" font-weight="bold" text-anchor="middle" fill="#111">10</text>
<line x1="402.70" y1="482.5" x2="402.70" y2="488.7" stroke="#111" stroke-width="1.3"/>
<text x="402.70" y="500.8" font-size="10.6" font-weight="bold" text-anchor="middle" fill="#111">15</text>
<line x1="436.50" y1="482.5" x2="436.50" y2="488.7" stroke="#111" stroke-width="1.3"/>
<text x="436.50" y="500.8" font-size="10.6" font-weight="bold" text-anchor="middle" fill="#111">20</text>
<circle cx="344.5" cy="427" r="4.2" fill="#f88010"/>
<circle cx="355.6" cy="406.5" r="4.2" fill="#5aa2f8"/>
<circle cx="377" cy="389.6" r="4.2" fill="#ee3f48"/>
<circle cx="403" cy="386.3" r="4.2" fill="#5e5e5e"/>
<text x="322.83" y="337.40" font-size="14.5" font-weight="bold" fill="#111" textLength="91.24" lengthAdjust="spacingAndGlyphs">pHGG (IV)(R)</text>
<text x="343.59" y="355.50" font-size="12.5" font-weight="bold" fill="#111" textLength="51.01" lengthAdjust="spacingAndGlyphs">3833-HS</text>
<text x="380.70" y="475.20" font-size="14.8" font-weight="bold" fill="#4f4f4f">R<tspan font-size="9.6" dy="-5.6">2</tspan><tspan dy="5.6">=0.83</tspan></text>
<text x="357.34" y="517.70" font-size="12" font-weight="bold" fill="#111" textLength="22.72" lengthAdjust="spacingAndGlyphs" stroke="#111" stroke-width="0.3">AUC</text>
<g transform="translate(279.7,471.4) rotate(-90)"><text x="-0.83" y="0" font-size="11.7" font-weight="bold" fill="#111" textLength="95.86" lengthAdjust="spacingAndGlyphs">Log<tspan font-size="8.2" dy="2.6">2</tspan><tspan dy="-2.6">Viability (%)</tspan></text></g>
<line x1="501.7" y1="366.2" x2="501.7" y2="487.4" stroke="#111" stroke-width="1.3"/>
<line x1="495.8" y1="481.2" x2="634.6" y2="481.2" stroke="#111" stroke-width="1.3"/>
<line x1="495.8" y1="366.80" x2="501.7" y2="366.80" stroke="#111" stroke-width="1.3"/>
<text x="494.4" y="370.60" font-size="10.6" font-weight="bold" text-anchor="end" fill="#111">8</text>
<line x1="495.8" y1="389.68" x2="501.7" y2="389.68" stroke="#111" stroke-width="1.3"/>
<text x="494.4" y="393.48" font-size="10.6" font-weight="bold" text-anchor="end" fill="#111">6</text>
<line x1="495.8" y1="412.56" x2="501.7" y2="412.56" stroke="#111" stroke-width="1.3"/>
<text x="494.4" y="416.36" font-size="10.6" font-weight="bold" text-anchor="end" fill="#111">4</text>
<line x1="495.8" y1="435.44" x2="501.7" y2="435.44" stroke="#111" stroke-width="1.3"/>
<text x="494.4" y="439.24" font-size="10.6" font-weight="bold" text-anchor="end" fill="#111">2</text>
<line x1="495.8" y1="458.32" x2="501.7" y2="458.32" stroke="#111" stroke-width="1.3"/>
<text x="494.4" y="462.12" font-size="10.6" font-weight="bold" text-anchor="end" fill="#111">0</text>
<text x="494.4" y="485.00" font-size="10.6" font-weight="bold" text-anchor="end" fill="#111">-2</text>
<line x1="501.70" y1="481.2" x2="501.70" y2="487.4" stroke="#111" stroke-width="1.3"/>
<text x="501.70" y="499.4" font-size="10.6" font-weight="bold" text-anchor="middle" fill="#111">8</text>
<line x1="534.77" y1="481.2" x2="534.77" y2="487.4" stroke="#111" stroke-width="1.3"/>
<text x="534.77" y="499.4" font-size="10.6" font-weight="bold" text-anchor="middle" fill="#111">10</text>
<line x1="567.85" y1="481.2" x2="567.85" y2="487.4" stroke="#111" stroke-width="1.3"/>
<text x="567.85" y="499.4" font-size="10.6" font-weight="bold" text-anchor="middle" fill="#111">12</text>
<line x1="600.92" y1="481.2" x2="600.92" y2="487.4" stroke="#111" stroke-width="1.3"/>
<text x="600.92" y="499.4" font-size="10.6" font-weight="bold" text-anchor="middle" fill="#111">14</text>
<line x1="634.00" y1="481.2" x2="634.00" y2="487.4" stroke="#111" stroke-width="1.3"/>
<text x="634.00" y="499.4" font-size="10.6" font-weight="bold" text-anchor="middle" fill="#111">16</text>
<line x1="505.7" y1="458.32" x2="634" y2="458.32" stroke="#000" stroke-width="1.4" stroke-dasharray="1.4 2.6"/>
<circle cx="543.7" cy="441" r="4.2" fill="#f88010"/>
<circle cx="532.8" cy="475.2" r="4.2" fill="#5aa2f8"/>
<circle cx="594.7" cy="405.7" r="4.2" fill="#ee3f48"/>
<circle cx="618.6" cy="381.3" r="4.2" fill="#5e5e5e"/>
<text x="529.09" y="337.60" font-size="14.5" font-weight="bold" fill="#111" textLength="82.67" lengthAdjust="spacingAndGlyphs">GBM (IV)(R)</text>
<text x="544.49" y="356.40" font-size="12.5" font-weight="bold" fill="#111" textLength="50.91" lengthAdjust="spacingAndGlyphs">4089-HS</text>
<text x="577.20" y="475.40" font-size="14.8" font-weight="bold" fill="#4f4f4f">R<tspan font-size="9.6" dy="-5.6">2</tspan><tspan dy="5.6">=0.94</tspan></text>
<text x="556.14" y="516.50" font-size="12" font-weight="bold" fill="#111" textLength="22.93" lengthAdjust="spacingAndGlyphs" stroke="#111" stroke-width="0.3">AUC</text>
<g transform="translate(477.0,470.4) rotate(-90)"><text x="-0.82" y="0" font-size="11.7" font-weight="bold" fill="#111" textLength="94.54" lengthAdjust="spacingAndGlyphs">Log<tspan font-size="8.2" dy="2.6">2</tspan><tspan dy="-2.6">Viability (%)</tspan></text></g>
<line x1="99.4" y1="573.4" x2="99.4" y2="695.3000000000001" stroke="#111" stroke-width="1.3"/>
<line x1="93.5" y1="689.1" x2="235.2" y2="689.1" stroke="#111" stroke-width="1.3"/>
<line x1="93.5" y1="574.00" x2="99.4" y2="574.00" stroke="#111" stroke-width="1.3"/>
<text x="92.10000000000001" y="577.80" font-size="10.6" font-weight="bold" text-anchor="end" fill="#111">8</text>
<line x1="93.5" y1="602.77" x2="99.4" y2="602.77" stroke="#111" stroke-width="1.3"/>
<text x="92.10000000000001" y="606.57" font-size="10.6" font-weight="bold" text-anchor="end" fill="#111">6</text>
<line x1="93.5" y1="631.55" x2="99.4" y2="631.55" stroke="#111" stroke-width="1.3"/>
<text x="92.10000000000001" y="635.35" font-size="10.6" font-weight="bold" text-anchor="end" fill="#111">4</text>
<line x1="93.5" y1="660.33" x2="99.4" y2="660.33" stroke="#111" stroke-width="1.3"/>
<text x="92.10000000000001" y="664.12" font-size="10.6" font-weight="bold" text-anchor="end" fill="#111">2</text>
<text x="92.10000000000001" y="692.90" font-size="10.6" font-weight="bold" text-anchor="end" fill="#111">0</text>
<line x1="99.40" y1="689.1" x2="99.40" y2="695.3000000000001" stroke="#111" stroke-width="1.3"/>
<text x="99.40" y="708.0" font-size="10.6" font-weight="bold" text-anchor="middle" fill="#111">0</text>
<line x1="133.20" y1="689.1" x2="133.20" y2="695.3000000000001" stroke="#111" stroke-width="1.3"/>
<text x="133.20" y="708.0" font-size="10.6" font-weight="bold" text-anchor="middle" fill="#111">5</text>
<line x1="167.00" y1="689.1" x2="167.00" y2="695.3000000000001" stroke="#111" stroke-width="1.3"/>
<text x="167.00" y="708.0" font-size="10.6" font-weight="bold" text-anchor="middle" fill="#111">10</text>
<line x1="200.80" y1="689.1" x2="200.80" y2="695.3000000000001" stroke="#111" stroke-width="1.3"/>
<text x="200.80" y="708.0" font-size="10.6" font-weight="bold" text-anchor="middle" fill="#111">15</text>
<line x1="234.60" y1="689.1" x2="234.60" y2="695.3000000000001" stroke="#111" stroke-width="1.3"/>
<text x="234.60" y="708.0" font-size="10.6" font-weight="bold" text-anchor="middle" fill="#111">20</text>
<circle cx="152.6" cy="641.5" r="4.2" fill="#5aa2f8"/>
<circle cx="162.8" cy="613.2" r="4.2" fill="#f88010"/>
<circle cx="184.7" cy="600.9" r="4.2" fill="#ee3f48"/>
<circle cx="200.7" cy="595" r="4.2" fill="#5e5e5e"/>
<text x="104.04" y="544.20" font-size="14.5" font-weight="bold" fill="#111" textLength="138.62" lengthAdjust="spacingAndGlyphs">Astrocytoma (IV)(R)</text>
<text x="141.49" y="562.30" font-size="12.5" font-weight="bold" fill="#111" textLength="50.61" lengthAdjust="spacingAndGlyphs">5256-HS</text>
<text x="180.30" y="680.00" font-size="14.8" font-weight="bold" fill="#4f4f4f">R<tspan font-size="9.6" dy="-5.6">2</tspan><tspan dy="5.6">=0.84</tspan></text>
<text x="155.64" y="725.50" font-size="12" font-weight="bold" fill="#111" textLength="22.83" lengthAdjust="spacingAndGlyphs" stroke="#111" stroke-width="0.3">AUC</text>
<g transform="translate(79.0,678.3) rotate(-90)"><text x="-0.84" y="0" font-size="11.7" font-weight="bold" fill="#111" textLength="96.36" lengthAdjust="spacingAndGlyphs">Log<tspan font-size="8.2" dy="2.6">2</tspan><tspan dy="-2.6">Viability (%)</tspan></text></g>
<line x1="310.7" y1="575.1" x2="310.7" y2="698.2" stroke="#111" stroke-width="1.3"/>
<line x1="304.8" y1="692" x2="446.90000000000003" y2="692" stroke="#111" stroke-width="1.3"/>
<line x1="304.8" y1="575.70" x2="310.7" y2="575.70" stroke="#111" stroke-width="1.3"/>
<text x="303.4" y="579.50" font-size="10.6" font-weight="bold" text-anchor="end" fill="#111">8</text>
<line x1="304.8" y1="604.78" x2="310.7" y2="604.78" stroke="#111" stroke-width="1.3"/>
<text x="303.4" y="608.58" font-size="10.6" font-weight="bold" text-anchor="end" fill="#111">6</text>
<line x1="304.8" y1="633.85" x2="310.7" y2="633.85" stroke="#111" stroke-width="1.3"/>
<text x="303.4" y="637.65" font-size="10.6" font-weight="bold" text-anchor="end" fill="#111">4</text>
<line x1="304.8" y1="662.92" x2="310.7" y2="662.92" stroke="#111" stroke-width="1.3"/>
<text x="303.4" y="666.72" font-size="10.6" font-weight="bold" text-anchor="end" fill="#111">2</text>
<text x="303.4" y="695.80" font-size="10.6" font-weight="bold" text-anchor="end" fill="#111">0</text>
<line x1="310.70" y1="692" x2="310.70" y2="698.2" stroke="#111" stroke-width="1.3"/>
<text x="310.70" y="710.2" font-size="10.6" font-weight="bold" text-anchor="middle" fill="#111">0</text>
<line x1="344.60" y1="692" x2="344.60" y2="698.2" stroke="#111" stroke-width="1.3"/>
<text x="344.60" y="710.2" font-size="10.6" font-weight="bold" text-anchor="middle" fill="#111">5</text>
<line x1="378.50" y1="692" x2="378.50" y2="698.2" stroke="#111" stroke-width="1.3"/>
<text x="378.50" y="710.2" font-size="10.6" font-weight="bold" text-anchor="middle" fill="#111">10</text>
<line x1="412.40" y1="692" x2="412.40" y2="698.2" stroke="#111" stroke-width="1.3"/>
<text x="412.40" y="710.2" font-size="10.6" font-weight="bold" text-anchor="middle" fill="#111">15</text>
<line x1="446.30" y1="692" x2="446.30" y2="698.2" stroke="#111" stroke-width="1.3"/>
<text x="446.30" y="710.2" font-size="10.6" font-weight="bold" text-anchor="middle" fill="#111">20</text>
<circle cx="352.2" cy="656.7" r="4.2" fill="#f88010"/>
<circle cx="362.8" cy="638.4" r="4.2" fill="#5aa2f8"/>
<circle cx="392.3" cy="651.5" r="4.2" fill="#ee3f48"/>
<circle cx="412.2" cy="593.1" r="4.2" fill="#5e5e5e"/>
<text x="289.29" y="544.30" font-size="14.5" font-weight="bold" fill="#111" textLength="180.93" lengthAdjust="spacingAndGlyphs">Oligodendroglioma (III)(R)</text>
<text x="353.69" y="564.20" font-size="12.5" font-weight="bold" fill="#111" textLength="50.60" lengthAdjust="spacingAndGlyphs">3917-HS</text>
<text x="392.60" y="682.20" font-size="14.8" font-weight="bold" fill="#4f4f4f">R<tspan font-size="9.6" dy="-5.6">2</tspan><tspan dy="5.6">=0.57</tspan></text>
<text x="367.04" y="726.60" font-size="12" font-weight="bold" fill="#111" textLength="22.83" lengthAdjust="spacingAndGlyphs" stroke="#111" stroke-width="0.3">AUC</text>
<g transform="translate(290.1,680.9) rotate(-90)"><text x="-0.84" y="0" font-size="11.7" font-weight="bold" fill="#111" textLength="97.18" lengthAdjust="spacingAndGlyphs">Log<tspan font-size="8.2" dy="2.6">2</tspan><tspan dy="-2.6">Viability (%)</tspan></text></g>
<circle cx="514.5" cy="583.0" r="4.9" fill="#f88010"/>
<text x="528.14" y="588.40" font-size="14.5" font-weight="bold" fill="#111" textLength="66.08" lengthAdjust="spacingAndGlyphs">Dasatinib</text>
<circle cx="514.5" cy="610.6" r="4.9" fill="#5aa2f8"/>
<text x="526.58" y="616.40" font-size="14.5" font-weight="bold" fill="#111" textLength="84.52" lengthAdjust="spacingAndGlyphs">1S3R-RSL-3</text>
<circle cx="514.5" cy="640.0" r="4.9" fill="#ee3f48"/>
<text x="526.53" y="645.40" font-size="14.5" font-weight="bold" fill="#111" textLength="74.10" lengthAdjust="spacingAndGlyphs">Lovastatin</text>
<circle cx="514.5" cy="667.5" r="4.9" fill="#5e5e5e"/>
<text x="527.35" y="674.30" font-size="14.5" font-weight="bold" fill="#111" textLength="102.60" lengthAdjust="spacingAndGlyphs">Temozolomide</text>
</svg>
</body></html>
